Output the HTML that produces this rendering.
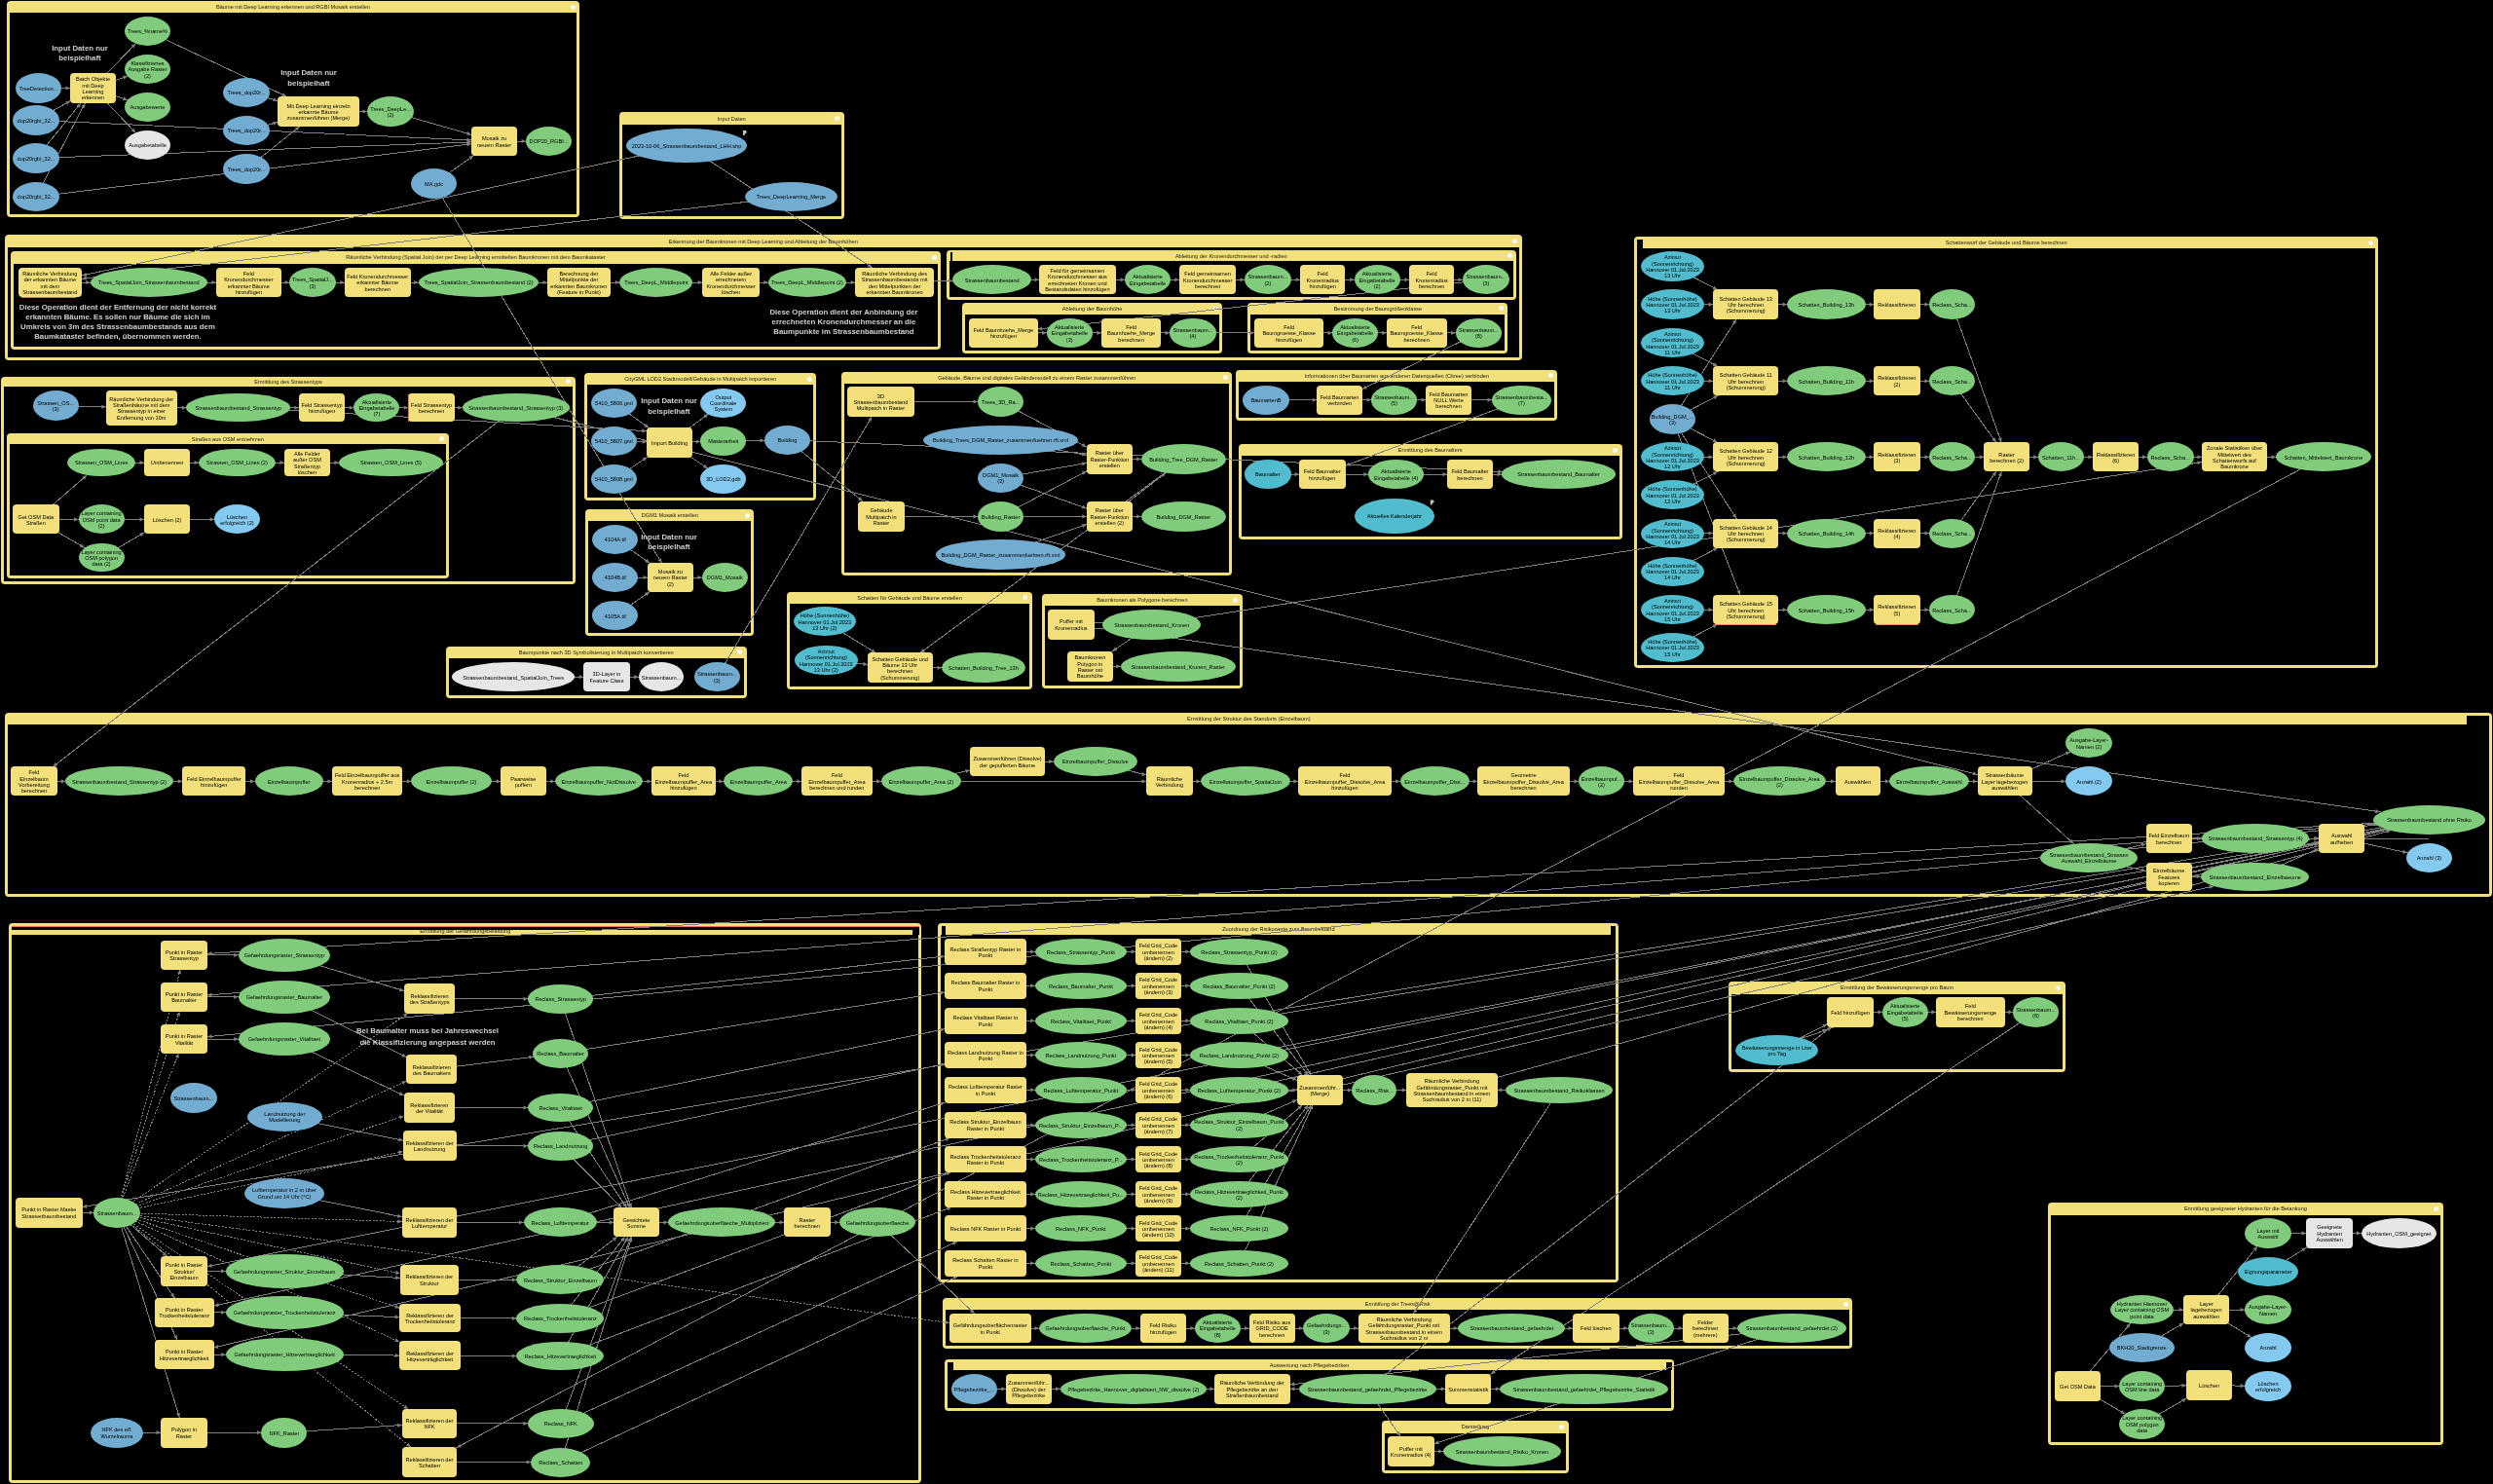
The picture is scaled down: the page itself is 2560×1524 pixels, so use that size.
<!DOCTYPE html>
<html><head><meta charset="utf-8"><title>Model</title><style>
html,body{margin:0;padding:0;background:#000;}
body{position:relative;width:2560px;height:1524px;overflow:hidden;font-family:"Liberation Sans",sans-serif;}
.G{position:absolute;background:#f2e07a;border-radius:4px;}
.I{position:absolute;background:#000;}
.T{position:absolute;left:0;right:0;top:0;text-align:center;font-size:5.6px;color:#1a1a1a;white-space:nowrap;overflow:hidden;}
.X{position:absolute;width:5px;height:5px;border-radius:50%;background:#f8f8f8;}
.n{position:absolute;display:flex;align-items:center;justify-content:center;text-align:center;font-size:5.6px;line-height:6.3px;color:#000;padding-top:1px;box-sizing:border-box;white-space:pre;overflow:hidden;}
.e{border-radius:50%;}
.r{border-radius:4px;}
.A{position:absolute;text-align:center;font-weight:bold;color:#cfcfcf;white-space:pre;display:flex;flex-direction:column;justify-content:center;align-items:center;}
svg{position:absolute;left:0;top:0;}
</style></head><body>
<div style="position:absolute;left:0;top:0;width:2560px;height:1524px;will-change:transform"><div class="G" style="left:7px;top:1px;width:588px;height:222px"><div class="T" style="top:0px;height:12px;line-height:13px">Bäume mit Deep Learning erkennen und RGBI Mosaik erstellen</div><div class="I" style="left:3px;top:12px;right:3px;bottom:3px"></div><div class="X" style="right:4.5px;top:3.5px"></div></div><div class="G" style="left:636px;top:115px;width:230.5px;height:109.5px"><div class="T" style="top:0px;height:13px;line-height:14px">Input Daten</div><div class="I" style="left:3px;top:13px;right:3px;bottom:3px"></div><div class="X" style="right:4.5px;top:4px"></div></div><div class="G" style="left:5px;top:241px;width:1557.5px;height:128.5px"><div class="T" style="top:0px;height:13px;line-height:14px">Erkennung der Baumkronen mit Deep Learning und Ableitung der Baumhöhen</div><div class="I" style="left:3px;top:13px;right:3px;bottom:3px"></div><div class="X" style="right:4.5px;top:4px"></div></div><div class="G" style="left:11px;top:258px;width:955px;height:101px"><div class="T" style="top:0px;height:12.5px;line-height:13.5px">Räumliche Verbindung (Spatial Join) der per Deep Learning ermittelten Baumkronen mit dem Baumkataster</div><div class="I" style="left:3px;top:12.5px;right:3px;bottom:3px"></div><div class="X" style="right:4.5px;top:3.75px"></div></div><div class="G" style="left:971.5px;top:256.5px;width:585.5px;height:51.5px"><div class="T" style="top:0px;height:11px;line-height:12px">Ableitung der Kronendurchmesser und -radien</div><div class="I" style="left:3px;top:11px;right:3px;bottom:3px"></div><div class="X" style="right:4.5px;top:3px"></div></div><div class="G" style="left:988px;top:311.3px;width:267.3px;height:52.2px"><div class="T" style="top:0px;height:11.3px;line-height:12.3px">Ableitung der Baumhöhe</div><div class="I" style="left:3px;top:11.3px;right:3px;bottom:3px"></div><div class="X" style="right:4.5px;top:3.15px"></div></div><div class="G" style="left:1281.3px;top:311.3px;width:267.2px;height:52.2px"><div class="T" style="top:0px;height:11.3px;line-height:12.3px">Bestimmung der Baumgrößenklasse</div><div class="I" style="left:3px;top:11.3px;right:3px;bottom:3px"></div><div class="X" style="right:4.5px;top:3.15px"></div></div><div class="G" style="left:1678.3px;top:243px;width:763.7px;height:443px"><div class="T" style="top:0px;height:12px;line-height:13px">Schattenwurf der Gebäude und Bäume berechnen</div><div class="I" style="left:3px;top:12px;right:3px;bottom:3px"></div><div class="X" style="right:4.5px;top:3.5px"></div></div><div class="G" style="left:1.2px;top:386.7px;width:589.8px;height:213.5px"><div class="T" style="top:0px;height:10.6px;line-height:11.6px">Ermittlung des Strassentyps</div><div class="I" style="left:3px;top:10.6px;right:3px;bottom:3px"></div><div class="X" style="right:4.5px;top:2.8px"></div></div><div class="G" style="left:6.7px;top:444.5px;width:454.3px;height:149.7px"><div class="T" style="top:0px;height:11.3px;line-height:12.3px">Straßen aus OSM entnehmen</div><div class="I" style="left:3px;top:11.3px;right:3px;bottom:3px"></div><div class="X" style="right:4.5px;top:3.15px"></div></div><div class="G" style="left:600.4px;top:383.4px;width:237.7px;height:130.2px"><div class="T" style="top:0px;height:11.7px;line-height:12.7px">CityGML LOD2 Stadtmodell/Gebäude in Multipatch importieren</div><div class="I" style="left:3px;top:11.7px;right:3px;bottom:3px"></div><div class="X" style="right:4.5px;top:3.35px"></div></div><div class="G" style="left:601.3px;top:523.4px;width:173.1px;height:130px"><div class="T" style="top:0px;height:11.7px;line-height:12.7px">DGM1 Mosaik erstellen</div><div class="I" style="left:3px;top:11.7px;right:3px;bottom:3px"></div><div class="X" style="right:4.5px;top:3.35px"></div></div><div class="G" style="left:457.7px;top:664px;width:309.1px;height:53.1px"><div class="T" style="top:0px;height:11.8px;line-height:12.8px">Baumpunkte nach 3D Symbolisierung in Multipatch konvertieren</div><div class="I" style="left:3px;top:11.8px;right:3px;bottom:3px"></div><div class="X" style="right:4.5px;top:3.4px"></div></div><div class="G" style="left:864.2px;top:382.1px;width:401px;height:209.4px"><div class="T" style="top:0px;height:11.8px;line-height:12.8px">Gebäude, Bäume und digitales Geländemodell zu einem Raster zusammenführen</div><div class="I" style="left:3px;top:11.8px;right:3px;bottom:3px"></div><div class="X" style="right:4.5px;top:3.4px"></div></div><div class="G" style="left:1269.2px;top:380.1px;width:330.2px;height:52.2px"><div class="T" style="top:0px;height:11.7px;line-height:12.7px">Informationen über Baumarten aus anderen Datenquellen (Citree) verbinden</div><div class="I" style="left:3px;top:11.7px;right:3px;bottom:3px"></div><div class="X" style="right:4.5px;top:3.35px"></div></div><div class="G" style="left:1271.7px;top:456.4px;width:393.9px;height:98px"><div class="T" style="top:0px;height:11.3px;line-height:12.3px">Ermittlung des Baumalters</div><div class="I" style="left:3px;top:11.3px;right:3px;bottom:3px"></div><div class="X" style="right:4.5px;top:3.15px"></div></div><div class="G" style="left:808.3px;top:608.3px;width:251.5px;height:99.4px"><div class="T" style="top:0px;height:11.4px;line-height:12.4px">Schatten für Gebäude und Bäume erstellen</div><div class="I" style="left:3px;top:11.4px;right:3px;bottom:3px"></div><div class="X" style="right:4.5px;top:3.2px"></div></div><div class="G" style="left:1070.2px;top:610.2px;width:205.4px;height:96.9px"><div class="T" style="top:0px;height:11.8px;line-height:12.8px">Baumkronen als Polygone berechnen</div><div class="I" style="left:3px;top:11.8px;right:3px;bottom:3px"></div><div class="X" style="right:4.5px;top:3.4px"></div></div><div class="G" style="left:5.2px;top:732px;width:2554.3px;height:189px"><div class="T" style="top:0px;height:11.7px;line-height:12.7px">Ermittlung der Struktur des Standorts (Einzelbaum)</div><div class="I" style="left:3px;top:11.7px;right:3px;bottom:3px"></div><div class="X" style="right:4.5px;top:3.35px"></div></div><div class="G" style="left:9.4px;top:948px;width:936.9px;height:575px"><div class="T" style="top:1.8px;height:12px;line-height:13px">Ermittlung der Gefährdungsbelastung</div><div class="I" style="left:3px;top:12px;right:3px;bottom:3px"></div><div class="X" style="right:4.5px;top:3.5px"></div></div><div class="G" style="left:963.2px;top:948px;width:699.3px;height:369.4px"><div class="T" style="top:0px;height:12.1px;line-height:13.1px">Zuordnung der Risikowerte zum Baumbestand</div><div class="I" style="left:3px;top:12.1px;right:3px;bottom:3px"></div><div class="X" style="right:4.5px;top:3.55px"></div></div><div class="G" style="left:968.1px;top:1333.3px;width:934.2px;height:52.1px"><div class="T" style="top:0px;height:11.8px;line-height:12.8px">Ermittlung der Trees@Risk</div><div class="I" style="left:3px;top:11.8px;right:3px;bottom:3px"></div><div class="X" style="right:4.5px;top:3.4px"></div></div><div class="G" style="left:970px;top:1395.6px;width:749.2px;height:53.2px"><div class="T" style="top:0px;height:11px;line-height:12px">Auswertung nach Pflegebezirken</div><div class="I" style="left:3px;top:11px;right:3px;bottom:3px"></div><div class="X" style="right:4.5px;top:3px"></div></div><div class="G" style="left:1419.1px;top:1459px;width:191.6px;height:53.8px"><div class="T" style="top:0px;height:12.8px;line-height:13.8px">Darstellung</div><div class="I" style="left:3px;top:12.8px;right:3px;bottom:3px"></div><div class="X" style="right:4.5px;top:3.9px"></div></div><div class="G" style="left:1775.2px;top:1008.4px;width:345.8px;height:92.2px"><div class="T" style="top:0px;height:12.2px;line-height:13.2px">Ermittlung der Bewässerungsmenge pro Baum</div><div class="I" style="left:3px;top:12.2px;right:3px;bottom:3px"></div><div class="X" style="right:4.5px;top:3.6px"></div></div><div class="G" style="left:2103.2px;top:1235.4px;width:405.5px;height:248.9px"><div class="T" style="top:0px;height:12.4px;line-height:13.4px">Ermittlung geeigneter Hydranten für die Betankung</div><div class="I" style="left:3px;top:12.4px;right:3px;bottom:3px"></div><div class="X" style="right:4.5px;top:3.7px"></div></div></div><div style="position:absolute;left:2533px;top:735px;width:23px;height:9px;background:#000"></div><div style="position:absolute;left:1654.4px;top:951px;width:5px;height:9px;background:#000"></div><div style="position:absolute;left:967.2px;top:950.5px;width:4px;height:9.6px;background:#000"></div><div style="position:absolute;left:1711.2px;top:1398.6px;width:5.6px;height:8px;background:#000"></div><div style="position:absolute;left:973.1px;top:1398.6px;width:6.2px;height:8px;background:#000"></div><div style="position:absolute;left:1681.2px;top:246px;width:5.8px;height:8.8px;background:#000"></div><div style="position:absolute;left:976px;top:259px;width:2.4px;height:8.5px;background:#000"></div><div style="position:absolute;left:12.4px;top:951.9px;width:931.2px;height:3px;background:#000"></div><div style="position:absolute;left:12.4px;top:950.8px;width:931.2px;height:1.1px;background:#ef6f6f"></div><div style="position:absolute;left:936.8px;top:954.8px;width:6.8px;height:5.2px;background:#000"></div><svg width="2560" height="1524" viewBox="0 0 2560 1524"><g stroke="#808080" stroke-width="1" fill="none" shape-rendering="crispEdges"><line x1="39.5" y1="90.5" x2="95.5" y2="90.5"/><line x1="37" y1="123.5" x2="95.5" y2="90.5"/><line x1="37" y1="162.5" x2="95.5" y2="90.5"/><line x1="37" y1="202" x2="95.5" y2="90.5"/><line x1="95.5" y1="90.5" x2="151.5" y2="32"/><line x1="95.5" y1="90.5" x2="151.5" y2="71"/><line x1="95.5" y1="90.5" x2="151.5" y2="110"/><line x1="95.5" y1="90.5" x2="151.5" y2="149"/><line x1="151.5" y1="32" x2="327" y2="114.5"/><line x1="253" y1="95" x2="327" y2="114.5"/><line x1="253" y1="134" x2="327" y2="114.5"/><line x1="253" y1="173.5" x2="327" y2="114.5"/><line x1="327" y1="114.5" x2="401" y2="114.5"/><line x1="37" y1="123.5" x2="507.5" y2="145"/><line x1="37" y1="162.5" x2="507.5" y2="145"/><line x1="37" y1="202" x2="507.5" y2="145"/><line x1="401" y1="114.5" x2="507.5" y2="145"/><line x1="445.5" y1="188.5" x2="507.5" y2="145"/><line x1="507.5" y1="145" x2="563.5" y2="145"/><line x1="705" y1="149.5" x2="51.35" y2="290"/><line x1="812.5" y1="202" x2="51.35" y2="290"/><line x1="705" y1="149.5" x2="918.6" y2="290"/><line x1="445.5" y1="188.5" x2="688.4" y2="593"/><line x1="51.35" y1="290" x2="152.85" y2="290"/><line x1="152.85" y1="290" x2="255.35" y2="290"/><line x1="255.35" y1="290" x2="320.9" y2="290"/><line x1="320.9" y1="290" x2="387.75" y2="290"/><line x1="387.75" y1="290" x2="491.55" y2="290"/><line x1="491.55" y1="290" x2="594.4" y2="290"/><line x1="594.4" y1="290" x2="673.9" y2="290"/><line x1="673.9" y1="290" x2="750.6" y2="290"/><line x1="750.6" y1="290" x2="828.9" y2="290"/><line x1="828.9" y1="290" x2="918.6" y2="290"/><line x1="918.6" y1="290" x2="1018.75" y2="287.25"/><line x1="1018.75" y1="287.25" x2="1106.45" y2="287.25"/><line x1="1106.45" y1="287.25" x2="1178.6" y2="287.25"/><line x1="1178.6" y1="287.25" x2="1240.15" y2="287.25"/><line x1="1240.15" y1="287.25" x2="1301.9" y2="287.25"/><line x1="1301.9" y1="287.25" x2="1358.2" y2="287.25"/><line x1="1358.2" y1="287.25" x2="1414.1" y2="287.25"/><line x1="1414.1" y1="287.25" x2="1470.15" y2="287.25"/><line x1="1470.15" y1="287.25" x2="1525.85" y2="287.25"/><line x1="1525.85" y1="287.25" x2="1030.35" y2="341.9"/><line x1="1030.35" y1="341.9" x2="1098.25" y2="341.9"/><line x1="1098.25" y1="341.9" x2="1161.6" y2="341.9"/><line x1="1161.6" y1="341.9" x2="1224.85" y2="341.9"/><line x1="1224.85" y1="341.9" x2="1323.6" y2="341.9"/><line x1="1323.6" y1="341.9" x2="1391.6" y2="341.9"/><line x1="1391.6" y1="341.9" x2="1454.65" y2="341.9"/><line x1="1454.65" y1="341.9" x2="1518.45" y2="341.9"/><line x1="1518.45" y1="341.9" x2="1375.6" y2="410.75"/><line x1="1717.5" y1="273.5" x2="1792.7" y2="312.65"/><line x1="1717.5" y1="312.65" x2="1792.7" y2="312.65"/><line x1="1717.5" y1="430.55" x2="1792.7" y2="312.65"/><line x1="1792.7" y1="312.65" x2="1875.35" y2="312.65"/><line x1="1875.35" y1="312.65" x2="1947.9" y2="312.65"/><line x1="1947.9" y1="312.65" x2="2004.35" y2="312.65"/><line x1="2004.35" y1="312.65" x2="2060.6" y2="469.35"/><line x1="1717.5" y1="352.2" x2="1792.7" y2="391.25"/><line x1="1717.5" y1="391.25" x2="1792.7" y2="391.25"/><line x1="1717.5" y1="430.55" x2="1792.7" y2="391.25"/><line x1="1792.7" y1="391.25" x2="1875.35" y2="391.25"/><line x1="1875.35" y1="391.25" x2="1947.9" y2="391.25"/><line x1="1947.9" y1="391.25" x2="2004.35" y2="391.25"/><line x1="2004.35" y1="391.25" x2="2060.6" y2="469.35"/><line x1="1717.5" y1="469.35" x2="1792.7" y2="469.35"/><line x1="1717.5" y1="508.45" x2="1792.7" y2="469.35"/><line x1="1717.5" y1="430.55" x2="1792.7" y2="469.35"/><line x1="1792.7" y1="469.35" x2="1875.35" y2="469.35"/><line x1="1875.35" y1="469.35" x2="1947.9" y2="469.35"/><line x1="1947.9" y1="469.35" x2="2004.35" y2="469.35"/><line x1="2004.35" y1="469.35" x2="2060.6" y2="469.35"/><line x1="1717.5" y1="547.55" x2="1792.7" y2="547.55"/><line x1="1717.5" y1="586.85" x2="1792.7" y2="547.55"/><line x1="1717.5" y1="430.55" x2="1792.7" y2="547.55"/><line x1="1792.7" y1="547.55" x2="1875.35" y2="547.55"/><line x1="1875.35" y1="547.55" x2="1947.9" y2="547.55"/><line x1="1947.9" y1="547.55" x2="2004.35" y2="547.55"/><line x1="2004.35" y1="547.55" x2="2060.6" y2="469.35"/><line x1="1717.5" y1="626.15" x2="1792.7" y2="626.15"/><line x1="1717.5" y1="664.95" x2="1792.7" y2="626.15"/><line x1="1717.5" y1="430.55" x2="1792.7" y2="626.15"/><line x1="1792.7" y1="626.15" x2="1875.35" y2="626.15"/><line x1="1875.35" y1="626.15" x2="1947.9" y2="626.15"/><line x1="1947.9" y1="626.15" x2="2004.35" y2="626.15"/><line x1="2004.35" y1="626.15" x2="2060.6" y2="469.35"/><line x1="2060.6" y1="469.35" x2="2116.35" y2="469.35"/><line x1="2116.35" y1="469.35" x2="2172.7" y2="469.35"/><line x1="2172.7" y1="469.35" x2="2228.6" y2="469.35"/><line x1="2228.6" y1="469.35" x2="2294.5" y2="469.35"/><line x1="2294.5" y1="469.35" x2="2385.9" y2="469.35"/><line x1="2385.9" y1="469.35" x2="441" y2="1501.35"/><line x1="57.15" y1="416.45" x2="145.25" y2="418.9"/><line x1="145.25" y1="418.9" x2="244.85" y2="418.75"/><line x1="244.85" y1="418.75" x2="330.6" y2="418.75"/><line x1="330.6" y1="418.75" x2="386.9" y2="418.75"/><line x1="386.9" y1="418.75" x2="443.1" y2="418.75"/><line x1="443.1" y1="418.75" x2="529.7" y2="418.75"/><line x1="244" y1="418" x2="687" y2="444"/><line x1="529.7" y1="418.75" x2="2058.6" y2="802.45"/><line x1="529.7" y1="418.75" x2="34.95" y2="802.45"/><line x1="104.1" y1="475.05" x2="171.5" y2="475.05"/><line x1="171.5" y1="475.05" x2="243.45" y2="475.05"/><line x1="243.45" y1="475.05" x2="315.4" y2="475.05"/><line x1="315.4" y1="475.05" x2="401.35" y2="475.05"/><line x1="36.9" y1="533.45" x2="104.1" y2="475.05"/><line x1="36.9" y1="533.45" x2="104.1" y2="533.45"/><line x1="36.9" y1="533.45" x2="104.1" y2="572.55"/><line x1="104.1" y1="533.45" x2="171.5" y2="533.45"/><line x1="104.1" y1="572.55" x2="171.5" y2="533.45"/><line x1="171.5" y1="533.45" x2="243.45" y2="533.45"/><line x1="630.4" y1="413.8" x2="687.5" y2="454.5"/><line x1="630.4" y1="452.9" x2="687.5" y2="454.5"/><line x1="630.4" y1="492" x2="687.5" y2="454.5"/><line x1="687.5" y1="454.5" x2="742.8" y2="413.8"/><line x1="687.5" y1="454.5" x2="742.8" y2="452.9"/><line x1="687.5" y1="454.5" x2="742.8" y2="492"/><line x1="687.5" y1="454.5" x2="808.5" y2="451.7"/><line x1="808.5" y1="451.7" x2="1600.5" y2="487.05"/><line x1="808.5" y1="451.7" x2="905" y2="530.4"/><line x1="631.9" y1="553.6" x2="688.4" y2="593"/><line x1="631.9" y1="593" x2="688.4" y2="593"/><line x1="631.9" y1="632.2" x2="688.4" y2="593"/><line x1="688.4" y1="593" x2="744.25" y2="593"/><line x1="527.15" y1="695.15" x2="623.05" y2="695.15"/><line x1="623.05" y1="695.15" x2="679.05" y2="695.15"/><line x1="736.3" y1="695.15" x2="904.45" y2="412.5"/><line x1="904.45" y1="412.5" x2="1027.6" y2="412.5"/><line x1="1027.6" y1="412.5" x2="1139.3" y2="471.45"/><line x1="1027.45" y1="451.65" x2="1139.3" y2="471.45"/><line x1="1027.6" y1="490.9" x2="1139.3" y2="471.45"/><line x1="1027.6" y1="490.9" x2="1139.3" y2="530.4"/><line x1="1027.6" y1="530.4" x2="1139.3" y2="471.45"/><line x1="1027.6" y1="530.4" x2="1139.3" y2="530.4"/><line x1="905" y1="530.4" x2="1027.6" y2="530.4"/><line x1="1027.45" y1="569.3" x2="1139.3" y2="530.4"/><line x1="1139.3" y1="471.45" x2="1215.3" y2="471.45"/><line x1="1139.3" y1="530.4" x2="1215.3" y2="530.4"/><line x1="1139.3" y1="530.4" x2="1215.3" y2="471.45"/><line x1="1215.3" y1="471.45" x2="924.2" y2="685.8"/><line x1="1300" y1="410.75" x2="1375.6" y2="410.75"/><line x1="1375.6" y1="410.75" x2="1431.6" y2="410.75"/><line x1="1431.6" y1="410.75" x2="1487.55" y2="410.75"/><line x1="1487.55" y1="410.75" x2="1562.35" y2="410.75"/><line x1="1562.35" y1="410.75" x2="1357.8" y2="487.05"/><line x1="1301.85" y1="487.05" x2="1357.8" y2="487.05"/><line x1="1357.8" y1="487.05" x2="1433.6" y2="487.05"/><line x1="1433.6" y1="487.05" x2="1509.45" y2="487.05"/><line x1="1509.45" y1="487.05" x2="1600.5" y2="487.05"/><line x1="846.85" y1="638.35" x2="924.2" y2="685.8"/><line x1="848.35" y1="678.05" x2="924.2" y2="685.8"/><line x1="924.2" y1="685.8" x2="1009.85" y2="685.8"/><line x1="1124" y1="639" x2="1134" y2="639"/><line x1="1134" y1="645" x2="1124" y2="645"/><line x1="1182.8" y1="641.3" x2="1119.4" y2="684.3"/><line x1="1119.4" y1="684.3" x2="1209.75" y2="684.3"/><line x1="1182.8" y1="641.3" x2="2294.5" y2="469.35"/><line x1="1182" y1="652" x2="2494" y2="841"/><line x1="34.95" y1="802.45" x2="122.55" y2="802.45"/><line x1="122.55" y1="802.45" x2="219.8" y2="802.45"/><line x1="219.8" y1="802.45" x2="296.7" y2="802.45"/><line x1="296.7" y1="802.45" x2="377.15" y2="802.45"/><line x1="377.15" y1="802.45" x2="463.5" y2="802.45"/><line x1="463.5" y1="802.45" x2="537.4" y2="802.45"/><line x1="537.4" y1="802.45" x2="614.75" y2="802.45"/><line x1="614.75" y1="802.45" x2="701.85" y2="802.45"/><line x1="701.85" y1="802.45" x2="778.6" y2="802.45"/><line x1="778.6" y1="802.45" x2="859.35" y2="802.45"/><line x1="859.35" y1="802.45" x2="945.9" y2="802.45"/><line x1="945.9" y1="802.45" x2="1034.6" y2="782.1"/><line x1="1034.6" y1="782.1" x2="1124.8" y2="782.1"/><line x1="1124.8" y1="782.1" x2="1200.85" y2="802.45"/><line x1="945.9" y1="802.45" x2="1200.85" y2="802.45"/><line x1="1200.85" y1="802.45" x2="1278.9" y2="802.45"/><line x1="1278.9" y1="802.45" x2="1381" y2="802.45"/><line x1="1381" y1="802.45" x2="1473.3" y2="802.45"/><line x1="1473.3" y1="802.45" x2="1564.55" y2="802.45"/><line x1="1564.55" y1="802.45" x2="1644.5" y2="802.45"/><line x1="1644.5" y1="802.45" x2="1724.05" y2="802.45"/><line x1="1724.05" y1="802.45" x2="1827.4" y2="802.45"/><line x1="1827.4" y1="802.45" x2="1907.6" y2="802.45"/><line x1="1907.6" y1="802.45" x2="1981" y2="802.45"/><line x1="1981" y1="802.45" x2="2058.6" y2="802.45"/><line x1="2058.6" y1="802.45" x2="2145.1" y2="802.45"/><line x1="2058.6" y1="802.45" x2="2145.1" y2="763.05"/><line x1="2058.6" y1="802.45" x2="2145.15" y2="880.65"/><line x1="2145.15" y1="880.65" x2="2227.25" y2="861.05"/><line x1="2145.15" y1="880.65" x2="2227.25" y2="900.25"/><line x1="2227.25" y1="861.05" x2="2316" y2="861.05"/><line x1="2316" y1="861.05" x2="2404.6" y2="861.05"/><line x1="2404.6" y1="861.05" x2="2494" y2="861"/><line x1="2404.6" y1="861.05" x2="2494.4" y2="880.65"/><line x1="2227.25" y1="900.25" x2="2315.7" y2="900.25"/><line x1="2315.7" y1="900.25" x2="2404.6" y2="861.05"/><line x1="2227.25" y1="861.05" x2="2404.6" y2="861.05"/><line x1="2494.6" y1="841.8" x2="189.05" y2="980.85"/><line x1="2494.6" y1="841.8" x2="189.05" y2="1023.85"/><line x1="2494.6" y1="841.8" x2="189.05" y2="1067.05"/><line x1="2494.6" y1="841.8" x2="189" y2="1305.4"/><line x1="2494.6" y1="841.8" x2="189.2" y2="1347.75"/><line x1="2494.6" y1="841.8" x2="189.2" y2="1391.2"/><line x1="50.3" y1="1245.2" x2="120.15" y2="1245.4"/><line x1="2494.6" y1="841.8" x2="50.3" y2="1245.2"/><line x1="120.15" y1="1245.4" x2="189" y2="1305.4"/><line x1="120.15" y1="1245.4" x2="189.2" y2="1347.75"/><line x1="120.15" y1="1245.4" x2="189.2" y2="1391.2"/><line x1="120.15" y1="1245.4" x2="189.05" y2="980.85" stroke-dasharray="2 1.5"/><line x1="120.15" y1="1245.4" x2="189.05" y2="1023.85" stroke-dasharray="2 1.5"/><line x1="120.15" y1="1245.4" x2="189.05" y2="1067.05" stroke-dasharray="2 1.5"/><line x1="120.15" y1="1245.4" x2="441.1" y2="1025.3" stroke-dasharray="2 1.5"/><line x1="120.15" y1="1245.4" x2="443.3" y2="1098.35" stroke-dasharray="2 1.5"/><line x1="120.15" y1="1245.4" x2="440.85" y2="1137.35" stroke-dasharray="2 1.5"/><line x1="120.15" y1="1245.4" x2="441.25" y2="1176.55" stroke-dasharray="2 1.5"/><line x1="120.15" y1="1245.4" x2="441" y2="1255.4" stroke-dasharray="2 1.5"/><line x1="120.15" y1="1245.4" x2="440.8" y2="1314.25" stroke-dasharray="2 1.5"/><line x1="120.15" y1="1245.4" x2="441.55" y2="1353.85" stroke-dasharray="2 1.5"/><line x1="120.15" y1="1245.4" x2="441.55" y2="1392.4" stroke-dasharray="2 1.5"/><line x1="120.15" y1="1245.4" x2="441" y2="1461.75" stroke-dasharray="2 1.5"/><line x1="120.15" y1="1245.4" x2="441" y2="1501.35" stroke-dasharray="2 1.5"/><line x1="120.15" y1="1245.4" x2="1016.8" y2="1364" stroke-dasharray="2 1.5"/><line x1="189.05" y1="980.85" x2="291.85" y2="980.85"/><line x1="189.05" y1="1023.85" x2="291.85" y2="1023.8"/><line x1="189.05" y1="1067.05" x2="291.85" y2="1067"/><line x1="189" y1="1305.4" x2="292.15" y2="1305.4"/><line x1="189.2" y1="1347.75" x2="292.15" y2="1348.05"/><line x1="189.2" y1="1391.2" x2="292.15" y2="1390.85"/><line x1="291.85" y1="980.85" x2="441.1" y2="1025.3"/><line x1="291.85" y1="1023.8" x2="443.3" y2="1098.35"/><line x1="291.85" y1="1067" x2="440.85" y2="1137.35"/><line x1="292.35" y1="1146.95" x2="441.25" y2="1176.55"/><line x1="291.95" y1="1225.25" x2="441" y2="1255.4"/><line x1="292.15" y1="1305.4" x2="440.8" y2="1314.25"/><line x1="292.15" y1="1348.05" x2="441.55" y2="1353.85"/><line x1="292.15" y1="1390.85" x2="441.55" y2="1392.4"/><line x1="120.15" y1="1245.4" x2="189" y2="1471.2"/><line x1="120.05" y1="1471.2" x2="189" y2="1471.2"/><line x1="189" y1="1471.2" x2="291.95" y2="1471.2"/><line x1="291.95" y1="1471.2" x2="441" y2="1461.75"/><line x1="441.1" y1="1025.3" x2="575.65" y2="1026"/><line x1="575.65" y1="1026" x2="653.45" y2="1255.35"/><line x1="443.3" y1="1098.35" x2="575.55" y2="1081.75"/><line x1="575.55" y1="1081.75" x2="653.45" y2="1255.35"/><line x1="440.85" y1="1137.35" x2="575.65" y2="1137.65"/><line x1="575.65" y1="1137.65" x2="653.45" y2="1255.35"/><line x1="441.25" y1="1176.55" x2="575.65" y2="1177"/><line x1="575.65" y1="1177" x2="653.45" y2="1255.35"/><line x1="441" y1="1255.4" x2="575.15" y2="1255.35"/><line x1="575.15" y1="1255.35" x2="653.45" y2="1255.35"/><line x1="440.8" y1="1314.25" x2="575.4" y2="1314.3"/><line x1="575.4" y1="1314.3" x2="653.45" y2="1255.35"/><line x1="441.55" y1="1353.85" x2="575.4" y2="1353.95"/><line x1="575.4" y1="1353.95" x2="653.45" y2="1255.35"/><line x1="441.55" y1="1392.4" x2="575.4" y2="1392.7"/><line x1="575.4" y1="1392.7" x2="653.45" y2="1255.35"/><line x1="441" y1="1461.75" x2="575.75" y2="1462.05"/><line x1="575.75" y1="1462.05" x2="653.45" y2="1255.35"/><line x1="441" y1="1501.35" x2="575.75" y2="1501.55"/><line x1="575.75" y1="1501.55" x2="653.45" y2="1255.35"/><line x1="653.45" y1="1255.35" x2="741.1" y2="1255.35"/><line x1="741.1" y1="1255.35" x2="828.8" y2="1255.35"/><line x1="828.8" y1="1255.35" x2="901" y2="1255.35"/><line x1="901" y1="1255.35" x2="1016.8" y2="1364"/><line x1="575.65" y1="1026" x2="1011.95" y2="977.35"/><line x1="575.55" y1="1081.75" x2="1011.95" y2="1012.25"/><line x1="575.65" y1="1137.65" x2="1011.95" y2="1048.25"/><line x1="575.65" y1="1177" x2="1011.95" y2="1083.55"/><line x1="575.15" y1="1255.35" x2="1011.95" y2="1119.25"/><line x1="575.4" y1="1314.3" x2="1011.95" y2="1155.25"/><line x1="575.4" y1="1353.95" x2="1011.95" y2="1190.55"/><line x1="575.4" y1="1392.7" x2="1011.95" y2="1226.35"/><line x1="575.75" y1="1462.05" x2="1011.95" y2="1261.65"/><line x1="575.75" y1="1501.55" x2="1011.95" y2="1297.25"/><line x1="1011.95" y1="977.35" x2="1109.85" y2="977.35"/><line x1="1109.85" y1="977.35" x2="1189.45" y2="977.35"/><line x1="1189.45" y1="977.35" x2="1272.45" y2="977.35"/><line x1="1272.45" y1="977.35" x2="1355.25" y2="1119.5"/><line x1="1011.95" y1="1012.25" x2="1109.85" y2="1012.25"/><line x1="1109.85" y1="1012.25" x2="1189.45" y2="1012.25"/><line x1="1189.45" y1="1012.25" x2="1272.45" y2="1012.25"/><line x1="1272.45" y1="1012.25" x2="1355.25" y2="1119.5"/><line x1="1011.95" y1="1048.25" x2="1109.85" y2="1048.25"/><line x1="1109.85" y1="1048.25" x2="1189.45" y2="1048.25"/><line x1="1189.45" y1="1048.25" x2="1272.45" y2="1048.25"/><line x1="1272.45" y1="1048.25" x2="1355.25" y2="1119.5"/><line x1="1011.95" y1="1083.55" x2="1109.85" y2="1083.55"/><line x1="1109.85" y1="1083.55" x2="1189.45" y2="1083.55"/><line x1="1189.45" y1="1083.55" x2="1272.45" y2="1083.55"/><line x1="1272.45" y1="1083.55" x2="1355.25" y2="1119.5"/><line x1="1011.95" y1="1119.25" x2="1109.85" y2="1119.25"/><line x1="1109.85" y1="1119.25" x2="1189.45" y2="1119.25"/><line x1="1189.45" y1="1119.25" x2="1272.45" y2="1119.25"/><line x1="1272.45" y1="1119.25" x2="1355.25" y2="1119.5"/><line x1="1011.95" y1="1155.25" x2="1109.85" y2="1155.25"/><line x1="1109.85" y1="1155.25" x2="1189.45" y2="1155.25"/><line x1="1189.45" y1="1155.25" x2="1272.45" y2="1155.25"/><line x1="1272.45" y1="1155.25" x2="1355.25" y2="1119.5"/><line x1="1011.95" y1="1190.55" x2="1109.85" y2="1190.55"/><line x1="1109.85" y1="1190.55" x2="1189.45" y2="1190.55"/><line x1="1189.45" y1="1190.55" x2="1272.45" y2="1190.55"/><line x1="1272.45" y1="1190.55" x2="1355.25" y2="1119.5"/><line x1="1011.95" y1="1226.35" x2="1109.85" y2="1226.35"/><line x1="1109.85" y1="1226.35" x2="1189.45" y2="1226.35"/><line x1="1189.45" y1="1226.35" x2="1272.45" y2="1226.35"/><line x1="1272.45" y1="1226.35" x2="1355.25" y2="1119.5"/><line x1="1011.95" y1="1261.65" x2="1109.85" y2="1261.65"/><line x1="1109.85" y1="1261.65" x2="1189.45" y2="1261.65"/><line x1="1189.45" y1="1261.65" x2="1272.45" y2="1261.65"/><line x1="1272.45" y1="1261.65" x2="1355.25" y2="1119.5"/><line x1="1011.95" y1="1297.25" x2="1109.85" y2="1297.25"/><line x1="1109.85" y1="1297.25" x2="1189.45" y2="1297.25"/><line x1="1189.45" y1="1297.25" x2="1272.45" y2="1297.25"/><line x1="1272.45" y1="1297.25" x2="1355.25" y2="1119.5"/><line x1="1355.25" y1="1119.5" x2="1411.45" y2="1119.5"/><line x1="1411.45" y1="1119.5" x2="1490.95" y2="1119.35"/><line x1="1601.05" y1="1119.3" x2="1490.95" y2="1119.35"/><line x1="1272.45" y1="1048.25" x2="2404.6" y2="861.05"/><line x1="1272.45" y1="1083.55" x2="2404.6" y2="861.05"/><line x1="1272.45" y1="1119.25" x2="2404.6" y2="861.05"/><line x1="1355.25" y1="1119.5" x2="2315.7" y2="900.25"/><line x1="1490.95" y1="1119.35" x2="2494.6" y2="841.8"/><line x1="1601.05" y1="1119.3" x2="1441.65" y2="1364"/><line x1="1016.8" y1="1364" x2="1114.55" y2="1364"/><line x1="1114.55" y1="1364" x2="1194.4" y2="1364"/><line x1="1194.4" y1="1364" x2="1250.25" y2="1364"/><line x1="1250.25" y1="1364" x2="1306.1" y2="1364"/><line x1="1306.1" y1="1364" x2="1362.1" y2="1364"/><line x1="1362.1" y1="1364" x2="1441.65" y2="1364"/><line x1="1441.65" y1="1364" x2="1552.35" y2="1364"/><line x1="1552.35" y1="1364" x2="1638.85" y2="1364"/><line x1="1638.85" y1="1364" x2="1695.25" y2="1364"/><line x1="1695.25" y1="1364" x2="1751.25" y2="1364"/><line x1="1751.25" y1="1364" x2="1839.85" y2="1364"/><line x1="1839.85" y1="1364" x2="1285.85" y2="1426.3"/><line x1="1839.85" y1="1364" x2="1448.9" y2="1490.45"/><line x1="1404.05" y1="1426.3" x2="1448.9" y2="1490.45"/><line x1="1000.45" y1="1426.3" x2="1056.3" y2="1426.3"/><line x1="1056.3" y1="1426.3" x2="1163.9" y2="1426.3"/><line x1="1163.9" y1="1426.3" x2="1285.85" y2="1426.3"/><line x1="1404.05" y1="1426.3" x2="1285.85" y2="1426.3"/><line x1="1404.05" y1="1426.3" x2="1507.75" y2="1426.3"/><line x1="1507.75" y1="1426.3" x2="1626.55" y2="1426.3"/><line x1="1404.05" y1="1426.3" x2="1900.05" y2="1039.35"/><line x1="2090.55" y1="1039.35" x2="1507.75" y2="1426.3"/><line x1="1448.9" y1="1490.45" x2="1542.45" y2="1490.45"/><line x1="1824.8" y1="1078.3" x2="1900.05" y2="1039.35"/><line x1="1840" y1="1070" x2="1900" y2="1049"/><line x1="1900.05" y1="1039.35" x2="1956.25" y2="1039.35"/><line x1="1956.25" y1="1039.35" x2="2023.35" y2="1039.35"/><line x1="2023.35" y1="1039.35" x2="2090.55" y2="1039.35"/><line x1="2133.45" y1="1423.5" x2="2199.45" y2="1345"/><line x1="2133.45" y1="1423.5" x2="2199.7" y2="1423.5"/><line x1="2133.45" y1="1423.5" x2="2199.7" y2="1462.35"/><line x1="2199.7" y1="1423.5" x2="2268.55" y2="1422.6"/><line x1="2199.7" y1="1462.35" x2="2268.55" y2="1422.6"/><line x1="2268.55" y1="1422.6" x2="2329" y2="1423.5"/><line x1="2199.45" y1="1345" x2="2265.65" y2="1345"/><line x1="2199.25" y1="1384.05" x2="2265.65" y2="1345"/><line x1="2265.65" y1="1345" x2="2329" y2="1266.4"/><line x1="2265.65" y1="1345" x2="2329" y2="1345"/><line x1="2265.65" y1="1345" x2="2329" y2="1384.05"/><line x1="2329" y1="1266.4" x2="2392.1" y2="1266.4"/><line x1="2329.2" y1="1305.7" x2="2392.1" y2="1266.4"/><line x1="2392.1" y1="1266.4" x2="2463.35" y2="1266.4"/></g><g fill="#808080" stroke="none"><polygon points="72,90.5 67.5,88.4 67.5,92.6"/><polygon points="72,103.76 67.05,104.14 69.11,107.8"/><polygon points="82.91,106 78.44,108.17 81.7,110.82"/><polygon points="87.37,106 83.42,109.01 87.14,110.96"/><polygon points="139.25,44.8 134.62,46.6 137.65,49.5"/><polygon points="130.87,78.18 125.93,77.68 127.31,81.65"/><polygon points="130.87,102.82 127.31,99.35 125.93,103.32"/><polygon points="139.25,136.2 137.65,131.5 134.62,134.4"/><polygon points="294.03,99 290.85,95.19 289.06,98.99"/><polygon points="285,103.43 281.18,100.26 280.11,104.32"/><polygon points="285,125.57 280.11,124.68 281.18,128.74"/><polygon points="307.56,130 302.73,131.16 305.35,134.45"/><polygon points="377,114.5 372.5,112.4 372.5,116.6"/><polygon points="484,143.93 479.6,141.62 479.41,145.82"/><polygon points="484,145.87 479.43,143.94 479.58,148.14"/><polygon points="484,147.85 479.28,146.3 479.79,150.47"/><polygon points="484,138.27 480.25,135.01 479.1,139.05"/><polygon points="486.12,160 481.23,160.87 483.64,164.3"/><polygon points="540,145 535.5,142.9 535.5,147.1"/><polygon points="84.2,282.94 89.04,284.05 88.16,279.94"/><polygon points="84.2,286.2 88.91,287.77 88.43,283.6"/><polygon points="895.8,275 893.19,270.77 890.88,274.28"/><polygon points="679.45,578.1 678.94,573.16 675.34,575.32"/><polygon points="92.7,290 88.2,287.9 88.2,292.1"/><polygon points="221.9,290 217.4,287.9 217.4,292.1"/><polygon points="297.2,290 292.7,287.9 292.7,292.1"/><polygon points="353.8,290 349.3,287.9 349.3,292.1"/><polygon points="429.6,290 425.1,287.9 425.1,292.1"/><polygon points="562,290 557.5,287.9 557.5,292.1"/><polygon points="636.4,290 631.9,287.9 631.9,292.1"/><polygon points="721.2,290 716.7,287.9 716.7,292.1"/><polygon points="788.9,290 784.4,287.9 784.4,292.1"/><polygon points="878.2,290 873.7,287.9 873.7,292.1"/><polygon points="978.51,288.35 973.95,286.38 974.07,290.58"/><polygon points="1066.9,287.25 1062.4,285.15 1062.4,289.35"/><polygon points="1155,287.25 1150.5,285.15 1150.5,289.35"/><polygon points="1210.8,287.25 1206.3,285.15 1206.3,289.35"/><polygon points="1278,287.25 1273.5,285.15 1273.5,289.35"/><polygon points="1335.1,287.25 1330.6,285.15 1330.6,289.35"/><polygon points="1390.6,287.25 1386.1,285.15 1386.1,289.35"/><polygon points="1446.9,287.25 1442.4,285.15 1442.4,289.35"/><polygon points="1502,287.25 1497.5,285.15 1497.5,289.35"/><polygon points="1065.7,338 1070.4,339.6 1069.94,335.42"/><polygon points="1074.5,341.9 1070,339.8 1070,344"/><polygon points="1130.8,341.9 1126.3,339.8 1126.3,344"/><polygon points="1201,341.9 1196.5,339.8 1196.5,344"/><polygon points="1287.9,341.9 1283.4,339.8 1283.4,344"/><polygon points="1368.1,341.9 1363.6,339.8 1363.6,344"/><polygon points="1423.7,341.9 1419.2,339.8 1419.2,344"/><polygon points="1494.6,341.9 1490.1,339.8 1490.1,344"/><polygon points="1398.9,399.52 1403.87,399.46 1402.04,395.67"/><polygon points="1763.41,297.4 1760.39,293.46 1758.45,297.18"/><polygon points="1759,312.65 1754.5,310.55 1754.5,314.75"/><polygon points="1782.97,327.9 1778.78,330.56 1782.32,332.82"/><polygon points="1835,312.65 1830.5,310.55 1830.5,314.75"/><polygon points="1924.2,312.65 1919.7,310.55 1919.7,314.75"/><polygon points="1981,312.65 1976.5,310.55 1976.5,314.75"/><polygon points="2055.2,454.3 2055.65,449.36 2051.7,450.77"/><polygon points="1763.91,376.3 1760.88,372.36 1758.95,376.09"/><polygon points="1759,391.25 1754.5,389.15 1754.5,393.35"/><polygon points="1764.09,406.2 1759.13,406.42 1761.08,410.15"/><polygon points="1835,391.25 1830.5,389.15 1830.5,393.35"/><polygon points="1924.2,391.25 1919.7,389.15 1919.7,393.35"/><polygon points="1981,391.25 1976.5,389.15 1976.5,393.35"/><polygon points="2049.76,454.3 2048.83,449.42 2045.43,451.88"/><polygon points="1759,469.35 1754.5,467.25 1754.5,471.45"/><polygon points="1763.75,484.4 1758.79,484.61 1760.73,488.34"/><polygon points="1763.53,454.3 1760.49,450.37 1758.57,454.1"/><polygon points="1835,469.35 1830.5,467.25 1830.5,471.45"/><polygon points="1924.2,469.35 1919.7,467.25 1919.7,471.45"/><polygon points="1981,469.35 1976.5,467.25 1976.5,471.45"/><polygon points="2037.2,469.35 2032.7,467.25 2032.7,471.45"/><polygon points="1759,547.55 1754.5,545.45 1754.5,549.65"/><polygon points="1763.9,562.6 1758.94,562.82 1760.89,566.55"/><polygon points="1783.03,532.5 1782.36,527.58 1778.83,529.85"/><polygon points="1835,547.55 1830.5,545.45 1830.5,549.65"/><polygon points="1924.2,547.55 1919.7,545.45 1919.7,549.65"/><polygon points="1981,547.55 1976.5,545.45 1976.5,549.65"/><polygon points="2049.77,484.4 2045.44,486.83 2048.85,489.28"/><polygon points="1759,626.15 1754.5,624.05 1754.5,628.25"/><polygon points="1763.34,641.3 1758.38,641.5 1760.3,645.23"/><polygon points="1786.88,611 1787.22,606.05 1783.3,607.55"/><polygon points="1835,626.15 1830.5,624.05 1830.5,628.25"/><polygon points="1924.2,626.15 1919.7,624.05 1919.7,628.25"/><polygon points="1981,626.15 1976.5,624.05 1976.5,628.25"/><polygon points="2055.2,484.4 2051.7,487.93 2055.66,489.34"/><polygon points="2092.7,469.35 2088.2,467.25 2088.2,471.45"/><polygon points="2148.9,469.35 2144.4,467.25 2144.4,471.45"/><polygon points="2204.5,469.35 2200,467.25 2200,471.45"/><polygon points="2261,469.35 2256.5,467.25 2256.5,471.45"/><polygon points="2337,469.35 2332.5,467.25 2332.5,471.45"/><polygon points="469.2,1486.39 474.16,1486.13 472.19,1482.42"/><polygon points="108.8,417.89 104.36,415.66 104.24,419.86"/><polygon points="191.3,418.83 186.8,416.74 186.8,420.94"/><polygon points="306.9,418.75 302.4,416.65 302.4,420.85"/><polygon points="363.4,418.75 358.9,416.65 358.9,420.85"/><polygon points="419.3,418.75 414.8,416.65 414.8,420.85"/><polygon points="474.6,418.75 470.1,416.65 470.1,420.85"/><polygon points="663.7,442.63 659.33,440.27 659.08,444.47"/><polygon points="2030.5,795.4 2026.65,792.27 2025.62,796.34"/><polygon points="54.36,787.4 59.2,786.3 56.62,782.98"/><polygon points="148,475.05 143.5,472.95 143.5,477.15"/><polygon points="204.1,475.05 199.6,472.95 199.6,477.15"/><polygon points="291.9,475.05 287.4,472.95 287.4,477.15"/><polygon points="347.8,475.05 343.3,472.95 343.3,477.15"/><polygon points="89.1,488.09 84.32,489.45 87.08,492.63"/><polygon points="80.6,533.45 76.1,531.35 76.1,535.55"/><polygon points="86.76,562.46 83.93,558.38 81.81,562.01"/><polygon points="148,533.45 143.5,531.35 143.5,535.55"/><polygon points="148,547.08 143.05,547.52 145.16,551.16"/><polygon points="220.2,533.45 215.7,531.35 215.7,535.55"/><polygon points="666.32,439.4 663.87,435.08 661.43,438.5"/><polygon points="664.2,453.85 659.76,451.62 659.64,455.82"/><polygon points="664.51,469.6 659.59,470.31 661.9,473.83"/><polygon points="727.43,425.11 722.57,426.09 725.05,429.47"/><polygon points="719.23,453.58 714.67,451.61 714.79,455.81"/><polygon points="726.78,481.13 724.23,476.87 721.87,480.35"/><polygon points="784.92,452.25 780.37,450.25 780.47,454.45"/><polygon points="1543,484.48 1538.6,482.19 1538.41,486.38"/><polygon points="885.87,514.8 883.71,510.33 881.06,513.58"/><polygon points="667.03,578.1 664.54,573.8 662.14,577.25"/><polygon points="665.1,593 660.6,590.9 660.6,595.1"/><polygon points="666.92,607.9 662.03,608.74 664.42,612.19"/><polygon points="720.8,593 716.3,590.9 716.3,595.1"/><polygon points="599.2,695.15 594.7,693.05 594.7,697.25"/><polygon points="655.6,695.15 651.1,693.05 651.1,697.25"/><polygon points="895.17,428.1 891.06,430.89 894.67,433.04"/><polygon points="1004,412.5 999.5,410.4 999.5,414.6"/><polygon points="1115.7,459 1112.7,455.04 1110.74,458.75"/><polygon points="1115.7,467.27 1111.63,464.42 1110.9,468.56"/><polygon points="1115.7,475.56 1110.91,474.26 1111.63,478.4"/><polygon points="1115.7,522.05 1112.16,518.57 1110.76,522.53"/><polygon points="1115.7,483.9 1110.74,484.15 1112.7,487.86"/><polygon points="1115.7,530.4 1111.2,528.3 1111.2,532.5"/><polygon points="1004,530.4 999.5,528.3 999.5,532.5"/><polygon points="1115.7,538.61 1110.76,538.1 1112.14,542.07"/><polygon points="1171.7,471.45 1167.2,469.35 1167.2,473.55"/><polygon points="1171.7,530.4 1167.2,528.3 1167.2,532.5"/><polygon points="1197.09,485.58 1192.24,486.68 1194.82,490"/><polygon points="945.11,670.4 949.98,669.42 947.49,666.04"/><polygon points="1352.3,410.75 1347.8,408.65 1347.8,412.85"/><polygon points="1408.2,410.75 1403.7,408.65 1403.7,412.85"/><polygon points="1464.1,410.75 1459.6,408.65 1459.6,412.85"/><polygon points="1532,410.75 1527.5,408.65 1527.5,412.85"/><polygon points="1381.6,478.17 1386.55,478.57 1385.08,474.63"/><polygon points="1334,487.05 1329.5,484.95 1329.5,489.15"/><polygon points="1404.8,487.05 1400.3,484.95 1400.3,489.15"/><polygon points="1486,487.05 1481.5,484.95 1481.5,489.15"/><polygon points="1542.1,487.05 1537.6,484.95 1537.6,489.15"/><polygon points="899.1,670.4 896.36,666.26 894.16,669.84"/><polygon points="890.8,682.39 886.54,679.84 886.11,684.02"/><polygon points="967.1,685.8 962.6,683.7 962.6,687.9"/><polygon points="1083.4,639 1078.9,636.9 1078.9,641.1"/><polygon points="1147.9,645 1152.4,647.1 1152.4,642.9"/><polygon points="1142.25,668.8 1147.16,668.01 1144.8,664.54"/><polygon points="1150.8,684.3 1146.3,682.2 1146.3,686.4"/><polygon points="2261,474.53 2256.23,473.14 2256.87,477.29"/><polygon points="2443.89,833.78 2439.74,831.06 2439.14,835.22"/><polygon points="67.3,802.45 62.8,800.35 62.8,804.55"/><polygon points="187.2,802.45 182.7,800.35 182.7,804.55"/><polygon points="261.5,802.45 257,800.35 257,804.55"/><polygon points="341,802.45 336.5,800.35 336.5,804.55"/><polygon points="422.4,802.45 417.9,800.35 417.9,804.55"/><polygon points="514.2,802.45 509.7,800.35 509.7,804.55"/><polygon points="569.9,802.45 565.4,800.35 565.4,804.55"/><polygon points="669,802.45 664.5,800.35 664.5,804.55"/><polygon points="743,802.45 738.5,800.35 738.5,804.55"/><polygon points="822.8,802.45 818.3,800.35 818.3,804.55"/><polygon points="904.7,802.45 900.2,800.35 900.2,804.55"/><polygon points="996,790.96 991.14,789.92 992.08,794.01"/><polygon points="1081.5,782.1 1077,780 1077,784.2"/><polygon points="1177,796.07 1173.2,792.88 1172.11,796.93"/><polygon points="1177,802.45 1172.5,800.35 1172.5,804.55"/><polygon points="1233,802.45 1228.5,800.35 1228.5,804.55"/><polygon points="1332.9,802.45 1328.4,800.35 1328.4,804.55"/><polygon points="1437.7,802.45 1433.2,800.35 1433.2,804.55"/><polygon points="1517.2,802.45 1512.7,800.35 1512.7,804.55"/><polygon points="1621,802.45 1616.5,800.35 1616.5,804.55"/><polygon points="1677.1,802.45 1672.6,800.35 1672.6,804.55"/><polygon points="1779.9,802.45 1775.4,800.35 1775.4,804.55"/><polygon points="1884.5,802.45 1880,800.35 1880,804.55"/><polygon points="1940.4,802.45 1935.9,800.35 1935.9,804.55"/><polygon points="2030.5,802.45 2026,800.35 2026,804.55"/><polygon points="2121,802.45 2116.5,800.35 2116.5,804.55"/><polygon points="2125.67,771.9 2120.71,771.85 2122.45,775.67"/><polygon points="2129.35,866.38 2127.42,861.8 2124.61,864.92"/><polygon points="2203.5,866.72 2198.64,865.72 2199.61,869.81"/><polygon points="2203.5,894.58 2199.61,891.49 2198.64,895.58"/><polygon points="2260.6,861.05 2256.1,858.95 2256.1,863.15"/><polygon points="2381,861.05 2376.5,858.95 2376.5,863.15"/><polygon points="2472.07,875.78 2468.12,872.77 2467.23,876.87"/><polygon points="2260,900.25 2255.5,898.15 2255.5,902.35"/><polygon points="2381,871.46 2376.04,871.35 2377.73,875.19"/><polygon points="2381,861.05 2376.5,858.95 2376.5,863.15"/><polygon points="213,979.41 217.62,981.23 217.37,977.04"/><polygon points="213,1021.96 217.65,1023.7 217.32,1019.51"/><polygon points="213,1064.71 217.68,1066.36 217.27,1062.18"/><polygon points="213,1300.57 217.83,1301.75 217,1297.63"/><polygon points="219.6,1341.08 224.45,1342.16 223.55,1338.06"/><polygon points="219.6,1383.96 224.46,1384.95 223.49,1380.87"/><polygon points="96.3,1245.33 91.81,1243.22 91.79,1247.42"/><polygon points="84.6,1239.54 89.38,1240.88 88.7,1236.73"/><polygon points="171.33,1290 169.32,1285.46 166.56,1288.63"/><polygon points="179.05,1332.7 178.27,1327.8 174.79,1330.14"/><polygon points="182,1376 181.97,1371.03 178.18,1372.83"/><polygon points="185.18,995.7 182.02,999.53 186.08,1000.58"/><polygon points="184.43,1038.7 181.09,1042.37 185.1,1043.62"/><polygon points="183.39,1081.7 179.81,1085.14 183.73,1086.65"/><polygon points="418.79,1040.6 413.89,1041.41 416.27,1044.88"/><polygon points="417.2,1110.23 412.23,1110.18 413.97,1114"/><polygon points="414.7,1146.16 409.77,1145.61 411.11,1149.59"/><polygon points="413.9,1182.41 409.06,1181.3 409.94,1185.41"/><polygon points="412.8,1254.52 408.37,1252.28 408.24,1256.48"/><polygon points="410.8,1307.81 406.84,1304.81 405.96,1308.92"/><polygon points="410.2,1343.27 406.61,1339.84 405.26,1343.82"/><polygon points="410.2,1378.06 406.98,1374.28 405.23,1378.1"/><polygon points="419.13,1447 416.57,1442.74 414.22,1446.23"/><polygon points="421.76,1486 419.55,1481.55 416.93,1484.84"/><polygon points="975,1358.47 970.81,1355.8 970.26,1359.96"/><polygon points="244.7,980.85 240.2,978.75 240.2,982.95"/><polygon points="244.7,1023.82 240.2,1021.73 240.2,1025.93"/><polygon points="244.7,1067.02 240.2,1064.93 240.2,1069.13"/><polygon points="231.5,1305.4 227,1303.3 227,1307.5"/><polygon points="231.5,1347.87 227.01,1345.76 227,1349.96"/><polygon points="231.5,1391.06 227,1388.97 227.01,1393.17"/><polygon points="414.7,1017.44 410.99,1014.14 409.79,1018.17"/><polygon points="417.2,1085.5 414.09,1081.63 412.24,1085.4"/><polygon points="414.7,1125 411.53,1121.18 409.73,1124.98"/><polygon points="413.9,1171.11 409.9,1168.18 409.08,1172.3"/><polygon points="412.8,1249.7 408.81,1246.75 407.97,1250.86"/><polygon points="410.8,1312.46 406.43,1310.1 406.18,1314.29"/><polygon points="410.2,1352.63 405.78,1350.36 405.62,1354.56"/><polygon points="410.2,1392.07 405.72,1389.93 405.68,1394.13"/><polygon points="184.24,1455.6 184.94,1450.68 180.92,1451.91"/><polygon points="165,1471.2 160.5,1469.1 160.5,1473.3"/><polygon points="268.4,1471.2 263.9,1469.1 263.9,1473.3"/><polygon points="412.8,1463.54 408.18,1461.73 408.44,1465.92"/><polygon points="542,1025.82 537.51,1023.7 537.49,1027.9"/><polygon points="648.38,1240.4 648.92,1235.46 644.94,1236.81"/><polygon points="547.89,1085.22 543.16,1083.7 543.69,1087.87"/><polygon points="646.74,1240.4 646.82,1235.43 642.98,1237.15"/><polygon points="542,1137.58 537.51,1135.47 537.5,1139.67"/><polygon points="643.57,1240.4 642.84,1235.49 639.33,1237.8"/><polygon points="542,1176.89 537.51,1174.77 537.49,1178.97"/><polygon points="638.6,1240.4 636.92,1235.73 633.94,1238.69"/><polygon points="537.5,1255.36 533,1253.27 533,1257.47"/><polygon points="630.3,1255.35 625.8,1253.25 625.8,1257.45"/><polygon points="530.3,1314.28 525.8,1312.18 525.8,1316.38"/><polygon points="633.66,1270.3 628.8,1271.34 631.33,1274.69"/><polygon points="530.3,1353.92 525.8,1351.81 525.8,1356.01"/><polygon points="641.62,1270.3 637.18,1272.52 640.47,1275.13"/><polygon points="530.3,1392.6 525.81,1390.49 525.8,1394.69"/><polygon points="644.95,1270.3 640.91,1273.17 644.56,1275.25"/><polygon points="541.9,1461.97 537.41,1459.86 537.4,1464.06"/><polygon points="647.83,1270.3 644.28,1273.77 648.21,1275.25"/><polygon points="545.2,1501.5 540.7,1499.4 540.7,1503.6"/><polygon points="648.73,1270.3 645.37,1273.96 649.38,1275.22"/><polygon points="686,1255.35 681.5,1253.25 681.5,1257.45"/><polygon points="805,1255.35 800.5,1253.25 800.5,1257.45"/><polygon points="861.7,1255.35 857.2,1253.25 857.2,1257.45"/><polygon points="1000.81,1349 998.97,1344.39 996.09,1347.45"/><polygon points="970,982.03 965.29,980.44 965.76,984.61"/><polygon points="970,1018.93 965.23,1017.56 965.89,1021.71"/><polygon points="970,1056.85 965.17,1055.69 966.01,1059.81"/><polygon points="970,1092.54 965.16,1091.42 966.04,1095.53"/><polygon points="970,1132.32 965.08,1131.65 966.33,1135.66"/><polygon points="975.58,1168.5 970.64,1168.07 972.07,1172.01"/><polygon points="976.55,1203.8 971.6,1203.41 973.07,1207.34"/><polygon points="977.18,1239.6 972.23,1239.24 973.72,1243.16"/><polygon points="983.11,1274.9 978.14,1274.87 979.9,1278.69"/><polygon points="983.66,1310.5 978.69,1310.51 980.48,1314.31"/><polygon points="1062.7,977.35 1058.2,975.25 1058.2,979.45"/><polygon points="1166.2,977.35 1161.7,975.25 1161.7,979.45"/><polygon points="1221.9,977.35 1217.4,975.25 1217.4,979.45"/><polygon points="1346.28,1104.1 1345.83,1099.15 1342.2,1101.27"/><polygon points="1062.7,1012.25 1058.2,1010.15 1058.2,1014.35"/><polygon points="1166.2,1012.25 1161.7,1010.15 1161.7,1014.35"/><polygon points="1221.9,1012.25 1217.4,1010.15 1217.4,1014.35"/><polygon points="1343.36,1104.1 1342.27,1099.25 1338.95,1101.82"/><polygon points="1062.7,1048.25 1058.2,1046.15 1058.2,1050.35"/><polygon points="1166.2,1048.25 1161.7,1046.15 1161.7,1050.35"/><polygon points="1221.9,1048.25 1217.4,1046.15 1217.4,1050.35"/><polygon points="1337.35,1104.1 1335.31,1099.57 1332.57,1102.76"/><polygon points="1062.7,1083.55 1058.2,1081.45 1058.2,1085.65"/><polygon points="1166.2,1083.55 1161.7,1081.45 1161.7,1085.65"/><polygon points="1221.9,1083.55 1217.4,1081.45 1217.4,1085.65"/><polygon points="1331.8,1109.32 1328.51,1105.6 1326.84,1109.45"/><polygon points="1062.7,1119.25 1058.2,1117.15 1058.2,1121.35"/><polygon points="1166.2,1119.25 1161.7,1117.15 1161.7,1121.35"/><polygon points="1221.9,1119.25 1217.4,1117.15 1217.4,1121.35"/><polygon points="1331.8,1119.43 1327.31,1117.32 1327.29,1121.52"/><polygon points="1062.7,1155.25 1058.2,1153.15 1058.2,1157.35"/><polygon points="1166.2,1155.25 1161.7,1153.15 1161.7,1157.35"/><polygon points="1221.9,1155.25 1217.4,1153.15 1217.4,1157.35"/><polygon points="1331.8,1129.62 1326.84,1129.48 1328.5,1133.34"/><polygon points="1062.7,1190.55 1058.2,1188.45 1058.2,1192.65"/><polygon points="1166.2,1190.55 1161.7,1188.45 1161.7,1192.65"/><polygon points="1221.9,1190.55 1217.4,1188.45 1217.4,1192.65"/><polygon points="1337.3,1134.9 1332.52,1136.24 1335.26,1139.42"/><polygon points="1062.7,1226.35 1058.2,1224.25 1058.2,1228.45"/><polygon points="1166.2,1226.35 1161.7,1224.25 1161.7,1228.45"/><polygon points="1221.9,1226.35 1217.4,1224.25 1217.4,1228.45"/><polygon points="1343.32,1134.9 1338.9,1137.17 1342.22,1139.74"/><polygon points="1062.7,1261.65 1058.2,1259.55 1058.2,1263.75"/><polygon points="1166.2,1261.65 1161.7,1259.55 1161.7,1263.75"/><polygon points="1221.9,1261.65 1217.4,1259.55 1217.4,1263.75"/><polygon points="1346.28,1134.9 1342.2,1137.73 1345.83,1139.85"/><polygon points="1062.7,1297.25 1058.2,1295.15 1058.2,1299.35"/><polygon points="1166.2,1297.25 1161.7,1295.15 1161.7,1299.35"/><polygon points="1221.9,1297.25 1217.4,1295.15 1217.4,1299.35"/><polygon points="1348.08,1134.9 1344.27,1138.09 1348.08,1139.87"/><polygon points="1388.4,1119.5 1383.9,1117.4 1383.9,1121.6"/><polygon points="1444.2,1119.44 1439.7,1117.35 1439.7,1121.55"/><polygon points="1537.7,1119.33 1542.2,1121.43 1542.2,1117.23"/><polygon points="2381,864.95 2376.22,863.61 2376.9,867.76"/><polygon points="2381,865.69 2376.18,864.5 2376.99,868.62"/><polygon points="2381,866.43 2376.15,865.39 2377.08,869.48"/><polygon points="2273.51,909.88 2268.66,908.83 2269.59,912.93"/><polygon points="2455.46,852.62 2450.56,851.8 2451.68,855.85"/><polygon points="1451.42,1349 1455.64,1346.38 1452.12,1344.08"/><polygon points="1066.9,1364 1062.4,1361.9 1062.4,1366.1"/><polygon points="1170.8,1364 1166.3,1361.9 1166.3,1366.1"/><polygon points="1226.7,1364 1222.2,1361.9 1222.2,1366.1"/><polygon points="1282.5,1364 1278,1361.9 1278,1366.1"/><polygon points="1338.3,1364 1333.8,1361.9 1333.8,1366.1"/><polygon points="1394.7,1364 1390.2,1361.9 1390.2,1366.1"/><polygon points="1497.2,1364 1492.7,1361.9 1492.7,1366.1"/><polygon points="1615,1364 1610.5,1361.9 1610.5,1366.1"/><polygon points="1671.7,1364 1667.2,1361.9 1667.2,1366.1"/><polygon points="1727.9,1364 1723.4,1361.9 1723.4,1366.1"/><polygon points="1784,1364 1779.5,1361.9 1779.5,1366.1"/><polygon points="1324.8,1421.92 1329.51,1423.5 1329.04,1419.33"/><polygon points="1472.8,1482.72 1477.73,1483.33 1476.44,1479.34"/><polygon points="1438.1,1475 1437.24,1470.11 1433.8,1472.52"/><polygon points="1032.8,1426.3 1028.3,1424.2 1028.3,1428.4"/><polygon points="1088.6,1426.3 1084.1,1424.2 1084.1,1428.4"/><polygon points="1246.9,1426.3 1242.4,1424.2 1242.4,1428.4"/><polygon points="1324.8,1426.3 1329.3,1428.4 1329.3,1424.2"/><polygon points="1484.2,1426.3 1479.7,1424.2 1479.7,1428.4"/><polygon points="1540.3,1426.3 1535.8,1424.2 1535.8,1428.4"/><polygon points="1880.5,1054.6 1875.66,1055.71 1878.25,1059.02"/><polygon points="1530.94,1410.9 1535.86,1410.16 1533.53,1406.66"/><polygon points="1481.7,1490.45 1477.2,1488.35 1477.2,1492.55"/><polygon points="1876.2,1051.69 1871.24,1051.9 1873.17,1055.63"/><polygon points="1876.15,1057.35 1871.21,1056.85 1872.6,1060.82"/><polygon points="1933,1039.35 1928.5,1037.25 1928.5,1041.45"/><polygon points="1987.9,1039.35 1983.4,1037.25 1983.4,1041.45"/><polygon points="2066.7,1039.35 2062.2,1037.25 2062.2,1041.45"/><polygon points="2187.69,1358.99 2183.18,1361.09 2186.4,1363.79"/><polygon points="2176.1,1423.5 2171.6,1421.4 2171.6,1425.6"/><polygon points="2182.12,1452.04 2179.3,1447.95 2177.18,1451.58"/><polygon points="2245,1422.91 2240.47,1420.87 2240.53,1425.07"/><polygon points="2245,1436.2 2240.05,1436.63 2242.15,1440.27"/><polygon points="2305.01,1423.14 2300.54,1420.98 2300.48,1425.18"/><polygon points="2242.2,1345 2237.7,1342.9 2237.7,1347.1"/><polygon points="2242.2,1358.79 2237.26,1359.26 2239.39,1362.88"/><polygon points="2317.98,1280.08 2313.52,1282.26 2316.79,1284.9"/><polygon points="2305,1345 2300.5,1342.9 2300.5,1347.1"/><polygon points="2312,1373.57 2309.27,1369.42 2307.06,1373"/><polygon points="2368,1266.4 2363.5,1264.3 2363.5,1268.5"/><polygon points="2368,1281.46 2363.07,1282.06 2365.3,1285.62"/><polygon points="2424.5,1266.4 2420,1264.3 2420,1268.5"/></g><polygon fill="#c4c4c4" points="763,134 766,134 767,136 765,137.6 764.6,139 763,139"/><polygon fill="#c4c4c4" points="1468.8,513.5 1471.8,513.5 1472.8,515.5 1470.8,517.1 1470.4,518.5 1468.8,518.5"/></svg><div style="position:absolute;left:0;top:0;width:2560px;height:1524px;will-change:transform"><div class="n e" style="left:16px;top:75px;width:47px;height:31px;background:#72acd0">TreeDetection...</div><div class="n r" style="left:72px;top:75px;width:47px;height:31px;background:#f3e07b">Batch Objekte
mit Deep
Learning
erkennen</div><div class="n e" style="left:128px;top:17px;width:47px;height:30px;background:#80cc7c">Trees_%name%</div><div class="n e" style="left:128px;top:56px;width:47px;height:30px;background:#80cc7c">Klassifiziertes
Ausgabe Raster
(2)</div><div class="n e" style="left:128px;top:95px;width:47px;height:30px;background:#80cc7c">Ausgabewerte</div><div class="n e" style="left:128px;top:134px;width:47px;height:30px;background:#e6e6e6">Ausgabetabelle</div><div class="n e" style="left:13px;top:108px;width:48px;height:31px;background:#72acd0">dop20rgbi_32...</div><div class="n e" style="left:13px;top:147px;width:48px;height:31px;background:#72acd0">dop20rgbi_32...</div><div class="n e" style="left:13px;top:187px;width:48px;height:30px;background:#72acd0">dop20rgbi_32...</div><div class="n e" style="left:229px;top:80px;width:48px;height:30px;background:#72acd0">Trees_dop20r...</div><div class="n e" style="left:229px;top:119px;width:48px;height:30px;background:#72acd0">Trees_dop20r...</div><div class="n e" style="left:229px;top:158px;width:48px;height:31px;background:#72acd0">Trees_dop20r...</div><div class="n r" style="left:285px;top:99px;width:84px;height:31px;background:#f3e07b">Mit Deep Learning einzeln
erkannte Bäume
zusammenführen (Merge)</div><div class="n e" style="left:377px;top:99px;width:48px;height:31px;background:#80cc7c">Trees_DeepLe...
(2)</div><div class="n r" style="left:484px;top:130px;width:47px;height:30px;background:#f3e07b">Mosaik zu
neuem Raster</div><div class="n e" style="left:540px;top:130px;width:47px;height:30px;background:#80cc7c">DOP20_RGBI...</div><div class="n e" style="left:422px;top:173px;width:47px;height:31px;background:#72acd0">MA.gdc</div><div class="n e" style="left:643px;top:132px;width:124px;height:35px;background:#72acd0">2023-10-06_Strassenbaumbestand_LHH.shp</div><div class="n e" style="left:765px;top:187px;width:95px;height:30px;background:#72acd0">Trees_DeepLearning_Merge</div><div class="n r" style="left:18.5px;top:275px;width:65.7px;height:30px;background:#f3e07b">Räumliche Verbindung
der erkannten Bäume
mit dem
Strassenbaumbestand</div><div class="n e" style="left:92.7px;top:275px;width:120.3px;height:30px;background:#80cc7c">Trees_SpatialJoin_Strassenbaumbestand</div><div class="n r" style="left:221.9px;top:275px;width:66.9px;height:30px;background:#f3e07b">Feld
Kronendurchmesser
erkannter Bäume
hinzufügen</div><div class="n e" style="left:297.2px;top:275px;width:47.4px;height:30px;background:#80cc7c">Trees_SpatialJ...
(3)</div><div class="n r" style="left:353.8px;top:275px;width:67.9px;height:30px;background:#f3e07b">Feld Kronendurchmesser
erkannter Bäume
berechnen</div><div class="n e" style="left:429.6px;top:275px;width:123.9px;height:30px;background:#80cc7c">Trees_SpatialJoin_Strassenbaumbestand (2)</div><div class="n r" style="left:562px;top:275px;width:64.8px;height:30px;background:#f3e07b">Berechnung der
Mittelpunkte der
erkannten Baumkronen
(Feature in Punkt)</div><div class="n e" style="left:636.4px;top:275px;width:75px;height:30px;background:#80cc7c">Trees_DeepL_Middlepoint</div><div class="n r" style="left:721.2px;top:275px;width:58.8px;height:30px;background:#f3e07b">Alle Felder außer
errechnetem
Kronendurchmesser
löschen</div><div class="n e" style="left:788.9px;top:275px;width:80px;height:30px;background:#80cc7c">Trees_DeepL_Middlepoint (2)</div><div class="n r" style="left:878.2px;top:275px;width:80.8px;height:30px;background:#f3e07b">Räumliche Verbindung des
Strassenbaumbestands mit
den Mittelpunkten der
erkannten Baumkronen</div><div class="n e" style="left:978.4px;top:272.2px;width:80.7px;height:30.1px;background:#80cc7c">Strassenbaumbestand</div><div class="n r" style="left:1066.9px;top:272.2px;width:79.1px;height:30.1px;background:#f3e07b">Feld für gemeinsamen
Kronendurchmesser aus
errechneten Kronen und
Bestandsdaten hinzufügen</div><div class="n e" style="left:1155px;top:272.2px;width:47.2px;height:30.1px;background:#80cc7c">Aktualisierte
Eingabetabelle</div><div class="n r" style="left:1210.8px;top:272.2px;width:58.7px;height:30.1px;background:#f3e07b">Feld gemeinsamen
Kronendurchmesser
berechnen</div><div class="n e" style="left:1278px;top:272.2px;width:47.8px;height:30.1px;background:#80cc7c">Strassenbaum...
(2)</div><div class="n r" style="left:1335.1px;top:272.2px;width:46.2px;height:30.1px;background:#f3e07b">Feld
Kronenradius
hinzufügen</div><div class="n e" style="left:1390.6px;top:272.2px;width:47px;height:30.1px;background:#80cc7c">Aktualisierte
Eingabetabelle
(2)</div><div class="n r" style="left:1446.9px;top:272.2px;width:46.5px;height:30.1px;background:#f3e07b">Feld
Kronenradius
berechnen</div><div class="n e" style="left:1502px;top:272.2px;width:47.7px;height:30.1px;background:#80cc7c">Strassenbaum...
(3)</div><div class="n r" style="left:995px;top:327.2px;width:70.7px;height:29.4px;background:#f3e07b">Feld Baumhoehe_Merge
hinzufügen</div><div class="n e" style="left:1074.5px;top:327.2px;width:47.5px;height:29.4px;background:#80cc7c">Aktualisierte
Eingabetabelle
(3)</div><div class="n r" style="left:1130.8px;top:327.2px;width:61.6px;height:29.4px;background:#f3e07b">Feld
Baumhoehe_Merge
berechnen</div><div class="n e" style="left:1201px;top:327.2px;width:47.7px;height:29.4px;background:#80cc7c">Strassenbaum...
(4)</div><div class="n r" style="left:1287.9px;top:327.2px;width:71.4px;height:29.4px;background:#f3e07b">Feld
Baumgroesse_Klasse
hinzufügen</div><div class="n e" style="left:1368.1px;top:327.2px;width:47px;height:29.4px;background:#80cc7c">Aktualisierte
Eingabetabelle
(6)</div><div class="n r" style="left:1423.7px;top:327.2px;width:61.9px;height:29.4px;background:#f3e07b">Feld
Baumgroesse_Klasse
berechnen</div><div class="n e" style="left:1494.6px;top:327.2px;width:47.7px;height:29.4px;background:#80cc7c">Strassenbaum...
(8)</div><div class="n e" style="left:1685px;top:258px;width:65px;height:31px;background:#50bccd">Azimut
(Sonnenrichtung)
Hannover 01.Jul.2023
13 Uhr</div><div class="n e" style="left:1685px;top:297.4px;width:65px;height:30.5px;background:#50bccd">Höhe (Sonnenhöhe)
Hannover 01.Jul.2023
13 Uhr</div><div class="n e" style="left:1685px;top:337.2px;width:65px;height:30px;background:#50bccd">Azimut
(Sonnenrichtung)
Hannover 01.Jul.2023
11 Uhr</div><div class="n e" style="left:1685px;top:376.3px;width:65px;height:29.9px;background:#50bccd">Höhe (Sonnenhöhe)
Hannover 01.Jul.2023
11 Uhr</div><div class="n e" style="left:1685px;top:454.3px;width:65px;height:30.1px;background:#50bccd">Azimut
(Sonnenrichtung)
Hannover 01.Jul.2023
12 Uhr</div><div class="n e" style="left:1685px;top:493.4px;width:65px;height:30.1px;background:#50bccd">Höhe (Sonnenhöhe)
Hannover 01.Jul.2023
12 Uhr</div><div class="n e" style="left:1685px;top:532.5px;width:65px;height:30.1px;background:#50bccd">Azimut
(Sonnenrichtung)
Hannover 01.Jul.2023
14 Uhr</div><div class="n e" style="left:1685px;top:572px;width:65px;height:29.7px;background:#50bccd">Höhe (Sonnenhöhe)
Hannover 01.Jul.2023
14 Uhr</div><div class="n e" style="left:1685px;top:611px;width:65px;height:30.3px;background:#50bccd">Azimut
(Sonnenrichtung)
Hannover 01.Jul.2023
15 Uhr</div><div class="n e" style="left:1685px;top:650.1px;width:65px;height:29.7px;background:#50bccd">Höhe (Sonnenhöhe)
Hannover 01.Jul.2023
15 Uhr</div><div class="n e" style="left:1694px;top:415.3px;width:47px;height:30.5px;background:#72acd0">Building_DGM_...
(3)</div><div class="n r" style="left:1759px;top:297.4px;width:67.4px;height:30.5px;background:#f3e07b">Schatten Gebäude 13
Uhr berechnen
(Schummerung)</div><div class="n e" style="left:1835px;top:297.4px;width:80.7px;height:30.5px;background:#80cc7c">Schatten_Building_13h</div><div class="n r" style="left:1924.2px;top:297.4px;width:47.4px;height:30.5px;background:#f3e07b">Reklassifizieren</div><div class="n e" style="left:1981px;top:297.4px;width:46.7px;height:30.5px;background:#80cc7c">Reclass_Scha...</div><div class="n r" style="left:1759px;top:376.3px;width:67.4px;height:29.9px;background:#f3e07b">Schatten Gebäude 11
Uhr berechnen
(Schummerung)</div><div class="n e" style="left:1835px;top:376.3px;width:80.7px;height:29.9px;background:#80cc7c">Schatten_Building_11h</div><div class="n r" style="left:1924.2px;top:376.3px;width:47.4px;height:29.9px;background:#f3e07b">Reklassifizieren
(2)</div><div class="n e" style="left:1981px;top:376.3px;width:46.7px;height:29.9px;background:#80cc7c">Reclass_Scha...</div><div class="n r" style="left:1759px;top:454.3px;width:67.4px;height:30.1px;background:#f3e07b">Schatten Gebäude 12
Uhr berechnen
(Schummerung)</div><div class="n e" style="left:1835px;top:454.3px;width:80.7px;height:30.1px;background:#80cc7c">Schatten_Building_12h</div><div class="n r" style="left:1924.2px;top:454.3px;width:47.4px;height:30.1px;background:#f3e07b">Reklassifizieren
(3)</div><div class="n e" style="left:1981px;top:454.3px;width:46.7px;height:30.1px;background:#80cc7c">Reclass_Scha...</div><div class="n r" style="left:1759px;top:532.5px;width:67.4px;height:30.1px;background:#f3e07b">Schatten Gebäude 14
Uhr berechnen
(Schummerung)</div><div class="n e" style="left:1835px;top:532.5px;width:80.7px;height:30.1px;background:#80cc7c">Schatten_Building_14h</div><div class="n r" style="left:1924.2px;top:532.5px;width:47.4px;height:30.1px;background:#f3e07b">Reklassifizieren
(4)</div><div class="n e" style="left:1981px;top:532.5px;width:46.7px;height:30.1px;background:#80cc7c">Reclass_Scha...</div><div class="n r" style="left:1759px;top:611px;width:67.4px;height:30.3px;background:#f3e07b">Schatten Gebäude 15
Uhr berechnen
(Schummerung)</div><div class="n e" style="left:1835px;top:611px;width:80.7px;height:30.3px;background:#80cc7c">Schatten_Building_15h</div><div class="n r" style="left:1924.2px;top:611px;width:47.4px;height:30.3px;background:#f3e07b">Reklassifizieren
(5)</div><div class="n e" style="left:1981px;top:611px;width:46.7px;height:30.3px;background:#80cc7c">Reclass_Scha...</div><div class="n r" style="left:2037.2px;top:454.3px;width:46.8px;height:30.1px;background:#f3e07b">Raster
berechnen (2)</div><div class="n e" style="left:2092.7px;top:454.3px;width:47.3px;height:30.1px;background:#80cc7c">Schatten_11h...</div><div class="n r" style="left:2148.9px;top:454.3px;width:47.6px;height:30.1px;background:#f3e07b">Reklassifizieren
(6)</div><div class="n e" style="left:2204.5px;top:454.3px;width:48.2px;height:30.1px;background:#80cc7c">Reclass_Scha...</div><div class="n r" style="left:2261px;top:454.3px;width:67px;height:30.1px;background:#f3e07b">Zonale Statistiken über
Mittelwert des
Schattenwurfs auf
Baumkrone</div><div class="n e" style="left:2337px;top:454.3px;width:97.8px;height:30.1px;background:#80cc7c">Schatten_Mittelwert_Baumkrone</div><div class="n e" style="left:33.7px;top:401.2px;width:46.9px;height:30.5px;background:#72acd0">Strassen_OS...
(3)</div><div class="n r" style="left:108.8px;top:401.2px;width:72.9px;height:35.4px;background:#f3e07b">Räumliche Verbindung der
Straßenbäume mit dem
Strassentyp in einer
Entfernung von 10m</div><div class="n e" style="left:191.3px;top:404.1px;width:107.1px;height:29.3px;background:#80cc7c">Strassenbaumbestand_Strassentyp</div><div class="n r" style="left:306.9px;top:404.1px;width:47.4px;height:29.3px;background:#f3e07b">Feld Strassentyp
hinzufügen</div><div class="n e" style="left:363.4px;top:404.1px;width:47px;height:29.3px;background:#80cc7c">Aktualisierte
Eingabetabelle
(7)</div><div class="n r" style="left:419.3px;top:404.1px;width:47.6px;height:29.3px;background:#f3e07b">Feld Strassentyp
berechnen</div><div class="n e" style="left:474.6px;top:404.1px;width:110.2px;height:29.3px;background:#80cc7c">Strassenbaumbestand_Strassentyp (3)</div><div class="n e" style="left:69.3px;top:460.6px;width:69.6px;height:28.9px;background:#80cc7c">Strassen_OSM_Lines</div><div class="n r" style="left:148px;top:460.6px;width:47px;height:28.9px;background:#f3e07b">Umbenennen</div><div class="n e" style="left:204.1px;top:460.6px;width:78.7px;height:28.9px;background:#80cc7c">Strassen_OSM_Lines (2)</div><div class="n r" style="left:291.9px;top:460.6px;width:47px;height:28.9px;background:#f3e07b">Alle Felder
außer OSM
Straßentyp
löschen</div><div class="n e" style="left:347.8px;top:460.6px;width:107.1px;height:28.9px;background:#80cc7c">Strassen_OSM_Lines (5)</div><div class="n r" style="left:13.2px;top:518.4px;width:47.4px;height:30.1px;background:#f3e07b">Get OSM Data
Straßen</div><div class="n e" style="left:80.6px;top:518.4px;width:47px;height:30.1px;background:#80cc7c">Layer containing
OSM point data
(2)</div><div class="n r" style="left:148px;top:518.4px;width:47px;height:30.1px;background:#f3e07b">Löschen (2)</div><div class="n e" style="left:220.2px;top:518.4px;width:46.5px;height:30.1px;background:#84c9ef">Löschen
erfolgreich (2)</div><div class="n e" style="left:80.6px;top:557.6px;width:47px;height:29.9px;background:#80cc7c">Layer containing
OSM polygon
data (2)</div><div class="n e" style="left:607px;top:398.9px;width:46.8px;height:29.8px;background:#72acd0">5410_5806.gml</div><div class="n e" style="left:607px;top:438.1px;width:46.8px;height:29.6px;background:#72acd0">5410_5807.gml</div><div class="n e" style="left:607px;top:477.2px;width:46.8px;height:29.6px;background:#72acd0">5410_5808.gml</div><div class="n r" style="left:664.2px;top:439.4px;width:46.6px;height:30.2px;background:#f3e07b">Import Building</div><div class="n e" style="left:719.2px;top:398.9px;width:47.2px;height:29.8px;background:#84c9ef">Output
Coordinate
System</div><div class="n e" style="left:719.2px;top:438.1px;width:47.2px;height:29.6px;background:#80cc7c">Masterarbeit</div><div class="n e" style="left:719.2px;top:477.2px;width:47.2px;height:29.6px;background:#84c9ef">3D_LOD2.gdb</div><div class="n e" style="left:784.9px;top:436.6px;width:47.2px;height:30.2px;background:#72acd0">Building</div><div class="n e" style="left:608.3px;top:538.5px;width:47.2px;height:30.2px;background:#72acd0">4104A.tif</div><div class="n e" style="left:608.3px;top:578.1px;width:47.2px;height:29.8px;background:#72acd0">4104B.tif</div><div class="n e" style="left:608.3px;top:617.4px;width:47.2px;height:29.6px;background:#72acd0">4105A.tif</div><div class="n r" style="left:665.1px;top:578.1px;width:46.6px;height:29.8px;background:#f3e07b">Mosaik zu
neuem Raster
(2)</div><div class="n e" style="left:720.8px;top:578.1px;width:46.9px;height:29.8px;background:#80cc7c">DGM1_Mosaik</div><div class="n e" style="left:464.4px;top:680px;width:125.5px;height:30.3px;background:#e6e6e6">Strassenbaumbestand_SpatialJoin_Trees</div><div class="n r" style="left:599.2px;top:680px;width:47.7px;height:30.3px;background:#e6e6e6">3D-Layer in
Feature Class</div><div class="n e" style="left:655.6px;top:680px;width:46.9px;height:30.3px;background:#e6e6e6">Strassenbaum...</div><div class="n e" style="left:712.9px;top:680px;width:46.8px;height:30.3px;background:#72acd0">Strassenbaum...
(3)</div><div class="n r" style="left:870.1px;top:396.9px;width:68.7px;height:31.2px;background:#f3e07b">3D
Strassenbaumbestand
Multipatch in Raster</div><div class="n e" style="left:1004px;top:396.9px;width:47.2px;height:31.2px;background:#80cc7c">Trees_3D_Ra...</div><div class="n e" style="left:947.6px;top:436.5px;width:159.7px;height:30.3px;background:#72acd0">Building_Trees_DGM_Raster_zusammenfuehren.rft.xml</div><div class="n r" style="left:1115.7px;top:455.9px;width:47.2px;height:31.1px;background:#f3e07b">Raster über
Raster-Funktion
erstellen</div><div class="n e" style="left:1171.7px;top:455.9px;width:87.2px;height:31.1px;background:#80cc7c">Building_Tree_DGM_Raster</div><div class="n e" style="left:1004px;top:475.7px;width:47.2px;height:30.4px;background:#72acd0">DGM1_Mosaik
(3)</div><div class="n r" style="left:881px;top:514.8px;width:48px;height:31.2px;background:#f3e07b">Gebäude
Multipatch in
Raster</div><div class="n e" style="left:1004px;top:514.8px;width:47.2px;height:31.2px;background:#80cc7c">Building_Raster</div><div class="n r" style="left:1115.7px;top:514.8px;width:47.2px;height:31.2px;background:#f3e07b">Raster über
Raster-Funktion
erstellen (2)</div><div class="n e" style="left:1171.7px;top:514.8px;width:87.2px;height:31.2px;background:#80cc7c">Building_DGM_Raster</div><div class="n e" style="left:960.7px;top:553.9px;width:133.5px;height:30.8px;background:#72acd0">Building_DGM_Raster_zusammenfuehren.rft.xml</div><div class="n e" style="left:1276px;top:396px;width:48px;height:29.5px;background:#72acd0">BaumartenB</div><div class="n r" style="left:1352.3px;top:396px;width:46.6px;height:29.5px;background:#f3e07b">Feld Baumarten
verbinden</div><div class="n e" style="left:1408.2px;top:396px;width:46.8px;height:29.5px;background:#80cc7c">Strassenbaum...
(5)</div><div class="n r" style="left:1464.1px;top:396px;width:46.9px;height:29.5px;background:#f3e07b">Feld Baumarten
NULL Werte
berechnen</div><div class="n e" style="left:1532px;top:396px;width:60.7px;height:29.5px;background:#80cc7c">Strassenbaumbesta...
(7)</div><div class="n e" style="left:1278.1px;top:472.4px;width:47.5px;height:29.3px;background:#50bccd">Baumalter</div><div class="n r" style="left:1334px;top:472.4px;width:47.6px;height:29.3px;background:#f3e07b">Feld Baumalter
hinzufügen</div><div class="n e" style="left:1404.8px;top:472.4px;width:57.6px;height:29.3px;background:#80cc7c">Aktualisierte
Eingabetabelle (4)</div><div class="n r" style="left:1486px;top:472.4px;width:46.9px;height:29.3px;background:#f3e07b">Feld Baumalter
berechnen</div><div class="n e" style="left:1542.1px;top:472.4px;width:116.8px;height:29.3px;background:#80cc7c">Strassenbaumbestand_Baumalter</div><div class="n e" style="left:1391px;top:512.3px;width:81.5px;height:35.4px;background:#50bccd">Aktuelles Kalenderjahr</div><div class="n e" style="left:814.7px;top:623.2px;width:64.3px;height:30.3px;background:#50bccd">Höhe (Sonnenhöhe)
Hannover 01.Jul.2023
13 Uhr (2)</div><div class="n e" style="left:816.1px;top:663.3px;width:64.5px;height:29.5px;background:#50bccd">Azimut
(Sonnenrichtung)
Hannover 01.Jul.2023
13 Uhr (2)</div><div class="n r" style="left:890.8px;top:670.4px;width:66.8px;height:30.8px;background:#f3e07b">Schatten Gebäude und
Bäume 13 Uhr
berechnen
(Schummerung)</div><div class="n e" style="left:967.1px;top:670.4px;width:85.5px;height:30.8px;background:#80cc7c">Schatten_Building_Tree_13h</div><div class="n r" style="left:1076.1px;top:625.6px;width:47.8px;height:31.4px;background:#f3e07b">Puffer mit
Kronenradius</div><div class="n e" style="left:1132.2px;top:625.6px;width:101.2px;height:31.4px;background:#80cc7c">Strassenbaumbestand_Kronen</div><div class="n r" style="left:1095.8px;top:668.8px;width:47.2px;height:31px;background:#f3e07b">Baumkronen
Polygon in
Raster mit
Baumhöhe</div><div class="n e" style="left:1150.8px;top:668.8px;width:117.9px;height:31px;background:#80cc7c">Strassenbaumbestand_Kronen_Raster</div><div class="n r" style="left:11.2px;top:787.4px;width:47.5px;height:30.1px;background:#f3e07b">Feld
Einzelbaum
Vorbereitung
berechnen</div><div class="n e" style="left:67.3px;top:787.4px;width:110.5px;height:30.1px;background:#80cc7c">Strassenbaumbestand_Strassentyp (2)</div><div class="n r" style="left:187.2px;top:787.4px;width:65.2px;height:30.1px;background:#f3e07b">Feld Einzelbaumpuffer
hinzufügen</div><div class="n e" style="left:261.5px;top:787.4px;width:70.4px;height:30.1px;background:#80cc7c">Einzelbaumpuffer</div><div class="n r" style="left:341px;top:787.4px;width:72.3px;height:30.1px;background:#f3e07b">Feld Einzelbaumpuffer aus
Kronenradius + 2.5m
berechnen</div><div class="n e" style="left:422.4px;top:787.4px;width:82.2px;height:30.1px;background:#80cc7c">Einzelbaumpuffer (2)</div><div class="n r" style="left:514.2px;top:787.4px;width:46.4px;height:30.1px;background:#f3e07b">Paarweise
puffern</div><div class="n e" style="left:569.9px;top:787.4px;width:89.7px;height:30.1px;background:#80cc7c">Einzelbaumpuffer_NotDissolve</div><div class="n r" style="left:669px;top:787.4px;width:65.7px;height:30.1px;background:#f3e07b">Feld
Einzelbaumpuffer_Area
hinzufügen</div><div class="n e" style="left:743px;top:787.4px;width:71.2px;height:30.1px;background:#80cc7c">Einzelbaumpuffer_Area</div><div class="n r" style="left:822.8px;top:787.4px;width:73.1px;height:30.1px;background:#f3e07b">Feld
Einzelbaumpuffer_Area
berechnen und runden</div><div class="n e" style="left:904.7px;top:787.4px;width:82.4px;height:30.1px;background:#80cc7c">Einzelbaumpuffer_Area (2)</div><div class="n r" style="left:1177px;top:787.4px;width:47.7px;height:30.1px;background:#f3e07b">Räumliche
Verbindung</div><div class="n e" style="left:1233px;top:787.4px;width:91.8px;height:30.1px;background:#80cc7c">Einzelbaumpuffer_SpatialJoin</div><div class="n r" style="left:1332.9px;top:787.4px;width:96.2px;height:30.1px;background:#f3e07b">Feld
Einzelbaumpuffer_Dissolve_Area
hinzufügen</div><div class="n e" style="left:1437.7px;top:787.4px;width:71.2px;height:30.1px;background:#80cc7c">Einzelbaumpuffer_Diss...</div><div class="n r" style="left:1517.2px;top:787.4px;width:94.7px;height:30.1px;background:#f3e07b">Geometrie
Einzelbaumpuffer_Dissolve_Area
berechnen</div><div class="n e" style="left:1621px;top:787.4px;width:47px;height:30.1px;background:#80cc7c">Einzelbaumpuf...
(2)</div><div class="n r" style="left:1677.1px;top:787.4px;width:93.9px;height:30.1px;background:#f3e07b">Feld
Einzelbaumpuffer_Dissolve_Area
runden</div><div class="n e" style="left:1779.9px;top:787.4px;width:95px;height:30.1px;background:#80cc7c">Einzelbaumpuffer_Dissolve_Area
(2)</div><div class="n r" style="left:1884.5px;top:787.4px;width:46.2px;height:30.1px;background:#f3e07b">Auswählen</div><div class="n e" style="left:1940.4px;top:787.4px;width:81.2px;height:30.1px;background:#80cc7c">Einzelbaumpuffer_Auswahl</div><div class="n r" style="left:2030.5px;top:787.4px;width:56.2px;height:30.1px;background:#f3e07b">Strassenbäume
Layer lagebezogen
auswählen</div><div class="n e" style="left:2121px;top:787.4px;width:48.2px;height:30.1px;background:#84c9ef">Anzahl (2)</div><div class="n r" style="left:996px;top:766.7px;width:77.2px;height:30.8px;background:#f3e07b">Zusammenführen (Dissolve)
der gepufferten Bäume</div><div class="n e" style="left:1081.5px;top:766.7px;width:86.6px;height:30.8px;background:#80cc7c">Einzelbaumpuffer_Dissolve</div><div class="n e" style="left:2121px;top:748.1px;width:48.2px;height:29.9px;background:#80cc7c">Ausgabe-Layer-
Namen (2)</div><div class="n e" style="left:2437.2px;top:827px;width:114.8px;height:29.6px;background:#80cc7c">Strassenbaumbestand ohne Risiko</div><div class="n r" style="left:2203.5px;top:846.3px;width:47.5px;height:29.5px;background:#f3e07b">Feld Einzelbaum
berechnen</div><div class="n e" style="left:2260.6px;top:846.3px;width:110.8px;height:29.5px;background:#80cc7c">Strassenbaumbestand_Strassentyp (4)</div><div class="n r" style="left:2381px;top:846.3px;width:47.2px;height:29.5px;background:#f3e07b">Auswahl
aufheben</div><div class="n e" style="left:2095.4px;top:865.6px;width:99.5px;height:30.1px;background:#80cc7c">Strassenbaumbestand_Strassen
Auswahl_Einzelbäume</div><div class="n e" style="left:2470.8px;top:865.6px;width:47.2px;height:30.1px;background:#84c9ef">Anzahl (3)</div><div class="n r" style="left:2203.5px;top:885.5px;width:47.5px;height:29.5px;background:#f3e07b">Einzelbäume
Features
kopieren</div><div class="n e" style="left:2260px;top:885.5px;width:111.4px;height:29.5px;background:#80cc7c">Strassenbaumbestand_Einzelbaeume</div><div class="n r" style="left:165.1px;top:966px;width:47.9px;height:29.7px;background:#f3e07b">Punkt in Raster
Strassentyp</div><div class="n e" style="left:244.7px;top:964px;width:94.3px;height:33.7px;background:#80cc7c">Gefaehrdungsraster_Strassentyp</div><div class="n r" style="left:165.1px;top:1009px;width:47.9px;height:29.7px;background:#f3e07b">Punkt in Raster
Baumalter</div><div class="n e" style="left:244.7px;top:1007px;width:94.3px;height:33.6px;background:#80cc7c">Gefaehrdungsraster_Baumalter</div><div class="n r" style="left:165.1px;top:1052.4px;width:47.9px;height:29.3px;background:#f3e07b">Punkt in Raster
Vitalität</div><div class="n e" style="left:244.7px;top:1050.4px;width:94.3px;height:33.2px;background:#80cc7c">Gefaehrdungsraster_Vitalitaet</div><div class="n e" style="left:174.9px;top:1112.4px;width:47.9px;height:30.8px;background:#72acd0">Strassenbaum...</div><div class="n e" style="left:254px;top:1132.1px;width:76.7px;height:29.7px;background:#72acd0">Landnutzung der
Modellierung</div><div class="n r" style="left:414.7px;top:1010px;width:52.8px;height:30.6px;background:#f3e07b">Reklassifizieren
des Straßentyps</div><div class="n r" style="left:417.2px;top:1083.2px;width:52.2px;height:30.3px;background:#f3e07b">Reklassifizieren
des Baumalters</div><div class="n r" style="left:414.7px;top:1122.1px;width:52.3px;height:30.5px;background:#f3e07b">Reklassifizieren
der Vitalität</div><div class="n r" style="left:413.9px;top:1161.4px;width:54.7px;height:30.3px;background:#f3e07b">Reklassifizieren der
Landnutzung</div><div class="n e" style="left:542px;top:1011.4px;width:67.3px;height:29.2px;background:#80cc7c">Reclass_Strassentyp</div><div class="n e" style="left:547.1px;top:1066.9px;width:56.9px;height:29.7px;background:#80cc7c">Reclass_Baumalter</div><div class="n e" style="left:542px;top:1123px;width:67.3px;height:29.3px;background:#80cc7c">Reclass_Vitalitaet</div><div class="n e" style="left:542px;top:1162.4px;width:67.3px;height:29.2px;background:#80cc7c">Reclass_Landnutzung</div><div class="n e" style="left:251px;top:1210px;width:81.9px;height:30.5px;background:#72acd0">Lufttemperatur in 2 m über
Grund um 14 Uhr (°C)</div><div class="n r" style="left:16px;top:1229.8px;width:68.6px;height:30.8px;background:#f3e07b">Punkt in Raster Maske
Strassenbaumbestand</div><div class="n e" style="left:96.3px;top:1230.2px;width:47.7px;height:30.4px;background:#80cc7c">Strassenbaum...</div><div class="n r" style="left:412.8px;top:1240px;width:56.4px;height:30.8px;background:#f3e07b">Reklassifizieren der
Lufttemperatur</div><div class="n e" style="left:537.5px;top:1240.4px;width:75.3px;height:29.9px;background:#80cc7c">Reclass_Lufttemperatur</div><div class="n r" style="left:630.3px;top:1240.4px;width:46.3px;height:29.9px;background:#f3e07b">Gewichtete
Summe</div><div class="n e" style="left:686px;top:1240.4px;width:110.2px;height:29.9px;background:#80cc7c">Gefaehrdungsoberflaeche_Multipliziert</div><div class="n r" style="left:805px;top:1240.4px;width:47.6px;height:29.9px;background:#f3e07b">Raster
berechnen</div><div class="n e" style="left:861.7px;top:1240.4px;width:78.6px;height:29.9px;background:#80cc7c">Gefaehrdungsoberflaeche</div><div class="n r" style="left:165px;top:1290px;width:48px;height:30.8px;background:#f3e07b">Punkt in Raster
Struktur/
Einzelbaum</div><div class="n e" style="left:231.5px;top:1288px;width:121.3px;height:34.8px;background:#80cc7c">Gefaehrdungsraster_Struktur_Einzelbaum</div><div class="n r" style="left:410.8px;top:1298.9px;width:60px;height:30.7px;background:#f3e07b">Reklassifizieren der
Struktur</div><div class="n e" style="left:530.3px;top:1299.3px;width:90.2px;height:30px;background:#80cc7c">Reclass_Struktur_Einzelbaum</div><div class="n r" style="left:158.8px;top:1332.7px;width:60.8px;height:30.1px;background:#f3e07b">Punkt in Raster
Trockenheitstoleranz</div><div class="n e" style="left:231.5px;top:1330.6px;width:121.3px;height:34.9px;background:#80cc7c">Gefaehrdungsraster_Trockenheitstoleranz</div><div class="n r" style="left:410.2px;top:1339.2px;width:62.7px;height:29.3px;background:#f3e07b">Reklassifizieren der
Trockenheitstoleranz</div><div class="n e" style="left:530.3px;top:1339.3px;width:90.2px;height:29.3px;background:#80cc7c">Reclass_Trockenheitstoleranz</div><div class="n r" style="left:158.8px;top:1376px;width:60.8px;height:30.4px;background:#f3e07b">Punkt in Raster
Hitzevertraeglichkeit</div><div class="n e" style="left:231.5px;top:1373.7px;width:121.3px;height:34.3px;background:#80cc7c">Gefaehrdungsraster_Hitzevertraeglichkeit</div><div class="n r" style="left:410.2px;top:1377.3px;width:62.7px;height:30.2px;background:#f3e07b">Reklassifizieren der
Hitzeverträglichkeit</div><div class="n e" style="left:530.3px;top:1378px;width:90.2px;height:29.4px;background:#80cc7c">Reclass_Hitzevertraeglichkeit</div><div class="n e" style="left:93.2px;top:1455.6px;width:53.7px;height:31.2px;background:#72acd0">NFK des eff.
Wurzelraums</div><div class="n r" style="left:165px;top:1455.6px;width:48px;height:31.2px;background:#f3e07b">Polygon in
Raster</div><div class="n e" style="left:268.4px;top:1455.6px;width:47.1px;height:31.2px;background:#80cc7c">NFK_Raster</div><div class="n r" style="left:412.8px;top:1447px;width:56.4px;height:29.5px;background:#f3e07b">Reklassifizieren der
NFK</div><div class="n e" style="left:541.9px;top:1447.2px;width:67.7px;height:29.7px;background:#80cc7c">Reclass_NFK</div><div class="n r" style="left:412.8px;top:1486px;width:56.4px;height:30.7px;background:#f3e07b">Reklassifizieren der
Schatten</div><div class="n e" style="left:545.2px;top:1486.5px;width:61.1px;height:30.1px;background:#80cc7c">Reclass_Schatten</div><div class="n r" style="left:970px;top:964.1px;width:83.9px;height:26.5px;background:#f3e07b">Reclass Straßentyp Raster in
Punkt</div><div class="n e" style="left:1062.7px;top:964.1px;width:94.3px;height:26.5px;background:#80cc7c">Reclass_Strassentyp_Punkt</div><div class="n r" style="left:1166.2px;top:964.1px;width:46.5px;height:26.5px;background:#f3e07b">Feld Grid_Code
umbenennen
(ändern) (2)</div><div class="n e" style="left:1221.9px;top:964.1px;width:101.1px;height:26.5px;background:#80cc7c">Reclass_Strassentyp_Punkt (2)</div><div class="n r" style="left:970px;top:999px;width:83.9px;height:26.5px;background:#f3e07b">Reclass Baumalter Raster in
Punkt</div><div class="n e" style="left:1062.7px;top:999px;width:94.3px;height:26.5px;background:#80cc7c">Reclass_Baumalter_Punkt</div><div class="n r" style="left:1166.2px;top:999px;width:46.5px;height:26.5px;background:#f3e07b">Feld Grid_Code
umbenennen
(ändern) (3)</div><div class="n e" style="left:1221.9px;top:999px;width:101.1px;height:26.5px;background:#80cc7c">Reclass_Baumalter_Punkt (2)</div><div class="n r" style="left:970px;top:1035px;width:83.9px;height:26.5px;background:#f3e07b">Reclass Vitalitaet Raster in
Punkt</div><div class="n e" style="left:1062.7px;top:1035px;width:94.3px;height:26.5px;background:#80cc7c">Reclass_Vitalitaet_Punkt</div><div class="n r" style="left:1166.2px;top:1035px;width:46.5px;height:26.5px;background:#f3e07b">Feld Grid_Code
umbenennen
(ändern) (4)</div><div class="n e" style="left:1221.9px;top:1035px;width:101.1px;height:26.5px;background:#80cc7c">Reclass_Vitalitaet_Punkt (2)</div><div class="n r" style="left:970px;top:1070.3px;width:83.9px;height:26.5px;background:#f3e07b">Reclass Landnutzung Raster in
Punkt</div><div class="n e" style="left:1062.7px;top:1070.3px;width:94.3px;height:26.5px;background:#80cc7c">Reclass_Landnutzung_Punkt</div><div class="n r" style="left:1166.2px;top:1070.3px;width:46.5px;height:26.5px;background:#f3e07b">Feld Grid_Code
umbenennen
(ändern) (5)</div><div class="n e" style="left:1221.9px;top:1070.3px;width:101.1px;height:26.5px;background:#80cc7c">Reclass_Landnutzung_Punkt (2)</div><div class="n r" style="left:970px;top:1106px;width:83.9px;height:26.5px;background:#f3e07b">Reclass Lufttemperatur Raster
in Punkt</div><div class="n e" style="left:1062.7px;top:1106px;width:94.3px;height:26.5px;background:#80cc7c">Reclass_Lufttemperatur_Punkt</div><div class="n r" style="left:1166.2px;top:1106px;width:46.5px;height:26.5px;background:#f3e07b">Feld Grid_Code
umbenennen
(ändern) (6)</div><div class="n e" style="left:1221.9px;top:1106px;width:101.1px;height:26.5px;background:#80cc7c">Reclass_Lufttemperatur_Punkt (2)</div><div class="n r" style="left:970px;top:1142px;width:83.9px;height:26.5px;background:#f3e07b">Reclass Struktur_Einzelbaum
Raster in Punkt</div><div class="n e" style="left:1062.7px;top:1142px;width:94.3px;height:26.5px;background:#80cc7c">Reclass_Struktur_Einzelbaum_P...</div><div class="n r" style="left:1166.2px;top:1142px;width:46.5px;height:26.5px;background:#f3e07b">Feld Grid_Code
umbenennen
(ändern) (7)</div><div class="n e" style="left:1221.9px;top:1142px;width:101.1px;height:26.5px;background:#80cc7c">Reclass_Struktur_Einzelbaum_Punkt
(2)</div><div class="n r" style="left:970px;top:1177.3px;width:83.9px;height:26.5px;background:#f3e07b">Reclass Trockenheitstoleranz
Raster in Punkt</div><div class="n e" style="left:1062.7px;top:1177.3px;width:94.3px;height:26.5px;background:#80cc7c">Reclass_Trockenheitstoleranz_P...</div><div class="n r" style="left:1166.2px;top:1177.3px;width:46.5px;height:26.5px;background:#f3e07b">Feld Grid_Code
umbenennen
(ändern) (8)</div><div class="n e" style="left:1221.9px;top:1177.3px;width:101.1px;height:26.5px;background:#80cc7c">Reclass_Trockenheitstoleranz_Punkt
(2)</div><div class="n r" style="left:970px;top:1213.1px;width:83.9px;height:26.5px;background:#f3e07b">Reclass Hitzevertraeglichkeit
Raster in Punkt</div><div class="n e" style="left:1062.7px;top:1213.1px;width:94.3px;height:26.5px;background:#80cc7c">Reclass_Hitzevertraeglichkeit_Pu...</div><div class="n r" style="left:1166.2px;top:1213.1px;width:46.5px;height:26.5px;background:#f3e07b">Feld Grid_Code
umbenennen
(ändern) (9)</div><div class="n e" style="left:1221.9px;top:1213.1px;width:101.1px;height:26.5px;background:#80cc7c">Reclass_Hitzevertraeglichkeit_Punkt
(2)</div><div class="n r" style="left:970px;top:1248.4px;width:83.9px;height:26.5px;background:#f3e07b">Reclass NFK Raster in Punkt</div><div class="n e" style="left:1062.7px;top:1248.4px;width:94.3px;height:26.5px;background:#80cc7c">Reclass_NFK_Punkt</div><div class="n r" style="left:1166.2px;top:1248.4px;width:46.5px;height:26.5px;background:#f3e07b">Feld Grid_Code
umbenennen
(ändern) (10)</div><div class="n e" style="left:1221.9px;top:1248.4px;width:101.1px;height:26.5px;background:#80cc7c">Reclass_NFK_Punkt (2)</div><div class="n r" style="left:970px;top:1284px;width:83.9px;height:26.5px;background:#f3e07b">Reclass Schatten Raster in
Punkt</div><div class="n e" style="left:1062.7px;top:1284px;width:94.3px;height:26.5px;background:#80cc7c">Reclass_Schatten_Punkt</div><div class="n r" style="left:1166.2px;top:1284px;width:46.5px;height:26.5px;background:#f3e07b">Feld Grid_Code
umbenennen
(ändern) (11)</div><div class="n e" style="left:1221.9px;top:1284px;width:101.1px;height:26.5px;background:#80cc7c">Reclass_Schatten_Punkt (2)</div><div class="n r" style="left:1331.8px;top:1104.1px;width:46.9px;height:30.8px;background:#f3e07b">Zusammenführ...
(Merge)</div><div class="n e" style="left:1388.4px;top:1104.1px;width:46.1px;height:30.8px;background:#80cc7c">Reclass_Risk...</div><div class="n r" style="left:1444.2px;top:1101.7px;width:93.5px;height:35.3px;background:#f3e07b">Räumliche Verbindung
Gefährdungsraster_Punkt mit
Strassenbaumbestand in einem
Suchradius von 2 m (11)</div><div class="n e" style="left:1546.1px;top:1105.8px;width:109.9px;height:27px;background:#80cc7c">Strassenbaumbestand_Risikoklassen</div><div class="n r" style="left:975px;top:1349px;width:83.6px;height:30px;background:#f3e07b">Gefährdungsoberflächenraster
in Punkt</div><div class="n e" style="left:1066.9px;top:1349px;width:95.3px;height:30px;background:#80cc7c">Gefaehrdungsoberflaeche_Punkt</div><div class="n r" style="left:1170.8px;top:1349px;width:47.2px;height:30px;background:#f3e07b">Feld Risiko
hinzufügen</div><div class="n e" style="left:1226.7px;top:1349px;width:47.1px;height:30px;background:#80cc7c">Aktualisierte
Eingabetabelle
(8)</div><div class="n r" style="left:1282.5px;top:1349px;width:47.2px;height:30px;background:#f3e07b">Feld Risiko aus
GRID_CODE
berechnen</div><div class="n e" style="left:1338.3px;top:1349px;width:47.6px;height:30px;background:#80cc7c">Gefaehrdungs...
(3)</div><div class="n r" style="left:1394.7px;top:1349px;width:93.9px;height:30px;background:#f3e07b">Räumliche Verbindung
Gefährdungsraster_Punkt mit
Strassenbaumbestand in einem
Suchradius von 2 m</div><div class="n e" style="left:1497.2px;top:1349px;width:110.3px;height:30px;background:#80cc7c">Strassenbaumbestand_gefaehrdet</div><div class="n r" style="left:1615px;top:1349px;width:47.7px;height:30px;background:#f3e07b">Feld löschen</div><div class="n e" style="left:1671.7px;top:1349px;width:47.1px;height:30px;background:#80cc7c">Strassenbaum...
(3)</div><div class="n r" style="left:1727.9px;top:1349px;width:46.7px;height:30px;background:#f3e07b">Felder
berechnen
(mehrere)</div><div class="n e" style="left:1784px;top:1349px;width:111.7px;height:30px;background:#80cc7c">Strassenbaumbestand_gefaehrdet (2)</div><div class="n e" style="left:977px;top:1410.9px;width:46.9px;height:30.8px;background:#72acd0">Pflegebezirke_...</div><div class="n r" style="left:1032.8px;top:1410.9px;width:47px;height:30.8px;background:#f3e07b">Zusammenführ...
(Dissolve) der
Pflegebezirke</div><div class="n e" style="left:1088.6px;top:1410.9px;width:150.6px;height:30.8px;background:#80cc7c">Pflegebezirke_Hannover_digitalisiert_NW_dissolve (2)</div><div class="n r" style="left:1246.9px;top:1410.9px;width:77.9px;height:30.8px;background:#f3e07b">Räumliche Verbindung der
Pflegebezirke an den
Straßenbaumbestand</div><div class="n e" style="left:1333.5px;top:1410.9px;width:141.1px;height:30.8px;background:#80cc7c">Strassenbaumbestand_gefaehrdet_Pflegebezirke</div><div class="n r" style="left:1484.2px;top:1410.9px;width:47.1px;height:30.8px;background:#f3e07b">Summenstatistik</div><div class="n e" style="left:1540.3px;top:1410.9px;width:172.5px;height:30.8px;background:#80cc7c">Strassenbaumbestand_gefaehrdet_Pflegebezirke_Statistik</div><div class="n r" style="left:1425px;top:1475px;width:47.8px;height:30.9px;background:#f3e07b">Puffer mit
Kronenradius (4)</div><div class="n e" style="left:1481.7px;top:1475px;width:121.5px;height:30.9px;background:#80cc7c">Strassenbaumbestand_Risiko_Kronen</div><div class="n r" style="left:1876.2px;top:1024.1px;width:47.7px;height:30.5px;background:#f3e07b">Feld hinzufügen</div><div class="n e" style="left:1933px;top:1024.1px;width:46.5px;height:30.5px;background:#80cc7c">Aktualisierte
Eingabetabelle
(5)</div><div class="n r" style="left:1987.9px;top:1024.1px;width:70.9px;height:30.5px;background:#f3e07b">Feld
Bewässerungsmenge
berechnen</div><div class="n e" style="left:2066.7px;top:1024.1px;width:47.7px;height:30.5px;background:#80cc7c">Strassenbaum...
(6)</div><div class="n e" style="left:1782.1px;top:1062.8px;width:85.4px;height:31px;background:#50bccd">Bewässerungsmenge in Liter
pro Tag</div><div class="n e" style="left:2305px;top:1251px;width:48px;height:30.8px;background:#80cc7c">Layer mit
Auswahl</div><div class="n r" style="left:2368px;top:1251px;width:48.2px;height:30.8px;background:#e6e6e6">Geeignete
Hydranten
Auswählen</div><div class="n e" style="left:2424.5px;top:1251px;width:77.7px;height:30.8px;background:#e6e6e6">Hydranten_OSM_geeignet</div><div class="n e" style="left:2298.3px;top:1290.7px;width:61.8px;height:30px;background:#50bccd">Eignungsparameter</div><div class="n e" style="left:2166.8px;top:1330px;width:65.3px;height:30px;background:#80cc7c">Hydranten Hannover
Layer containing OSM
point data</div><div class="n r" style="left:2242.2px;top:1330px;width:46.9px;height:30px;background:#f3e07b">Layer
lagebezogen
auswählen</div><div class="n e" style="left:2305px;top:1330px;width:48px;height:30px;background:#80cc7c">Ausgabe-Layer-
Namen</div><div class="n e" style="left:2165.9px;top:1369.2px;width:66.7px;height:29.7px;background:#72acd0">BKH20_Stadtgrenze</div><div class="n e" style="left:2305px;top:1369.2px;width:48px;height:29.7px;background:#84c9ef">Anzahl</div><div class="n r" style="left:2109.8px;top:1408px;width:47.3px;height:31px;background:#f3e07b">Get OSM Data</div><div class="n e" style="left:2176.1px;top:1408px;width:47.2px;height:31px;background:#80cc7c">Layer containing
OSM line data</div><div class="n r" style="left:2245px;top:1407.2px;width:47.1px;height:30.8px;background:#f3e07b">Löschen</div><div class="n e" style="left:2305px;top:1408px;width:48px;height:31px;background:#84c9ef">Löschen
erfolgreich</div><div class="n e" style="left:2176.1px;top:1446.9px;width:47.2px;height:30.9px;background:#80cc7c">Layer containing
OSM polygon
data</div><div style="position:absolute;left:21.7px;top:304.6px;width:56.5px;height:1px;background:#e86a6a"></div><div style="position:absolute;left:1761px;top:641px;width:63px;height:0.8px;background:#f08080"></div><div style="position:absolute;left:1926px;top:641px;width:44px;height:0.8px;background:#f08080"></div><div style="position:absolute;left:419.3px;top:404.5px;width:0.8px;height:28px;background:#e87070"></div></div><div style="position:absolute;left:0;top:0;width:2560px;height:1524px;will-change:transform"><div class="A" style="left:50px;top:45px;width:64px;height:20px;font-size:7.8px;line-height:10px">Input Daten nur
beispielhaft</div><div class="A" style="left:284px;top:70px;width:66px;height:21px;font-size:7.8px;line-height:10.5px">Input Daten nur
beispielhaft</div><div class="A" style="left:16px;top:311px;width:210px;height:40px;font-size:7.8px;line-height:10px">Diese Operation dient der Entfernung der nicht korrekt
erkannten Bäume. Es sollen nur Bäume die sich im
Umkreis von 3m des Strassenbaumbestands aus dem
Baumkataster befinden, übernommen werden.</div><div class="A" style="left:786px;top:316px;width:161px;height:30px;font-size:7.8px;line-height:10px">Diese Operation dient der Anbindung der
errechneten Kronendurchmesser an die
Baumpunkte im Strassenbaumbestand</div><div class="A" style="left:655px;top:407px;width:64px;height:21px;font-size:7.8px;line-height:10.5px">Input Daten nur
beispielhaft</div><div class="A" style="left:655px;top:547px;width:64px;height:20px;font-size:7.8px;line-height:10px">Input Daten nur
beispielhaft</div><div class="A" style="left:362px;top:1053px;width:154px;height:23px;font-size:7.8px;line-height:11.5px">Bei Baumalter muss bei Jahreswechsel
die Klassifizierung angepasst werden</div></div></body></html>
